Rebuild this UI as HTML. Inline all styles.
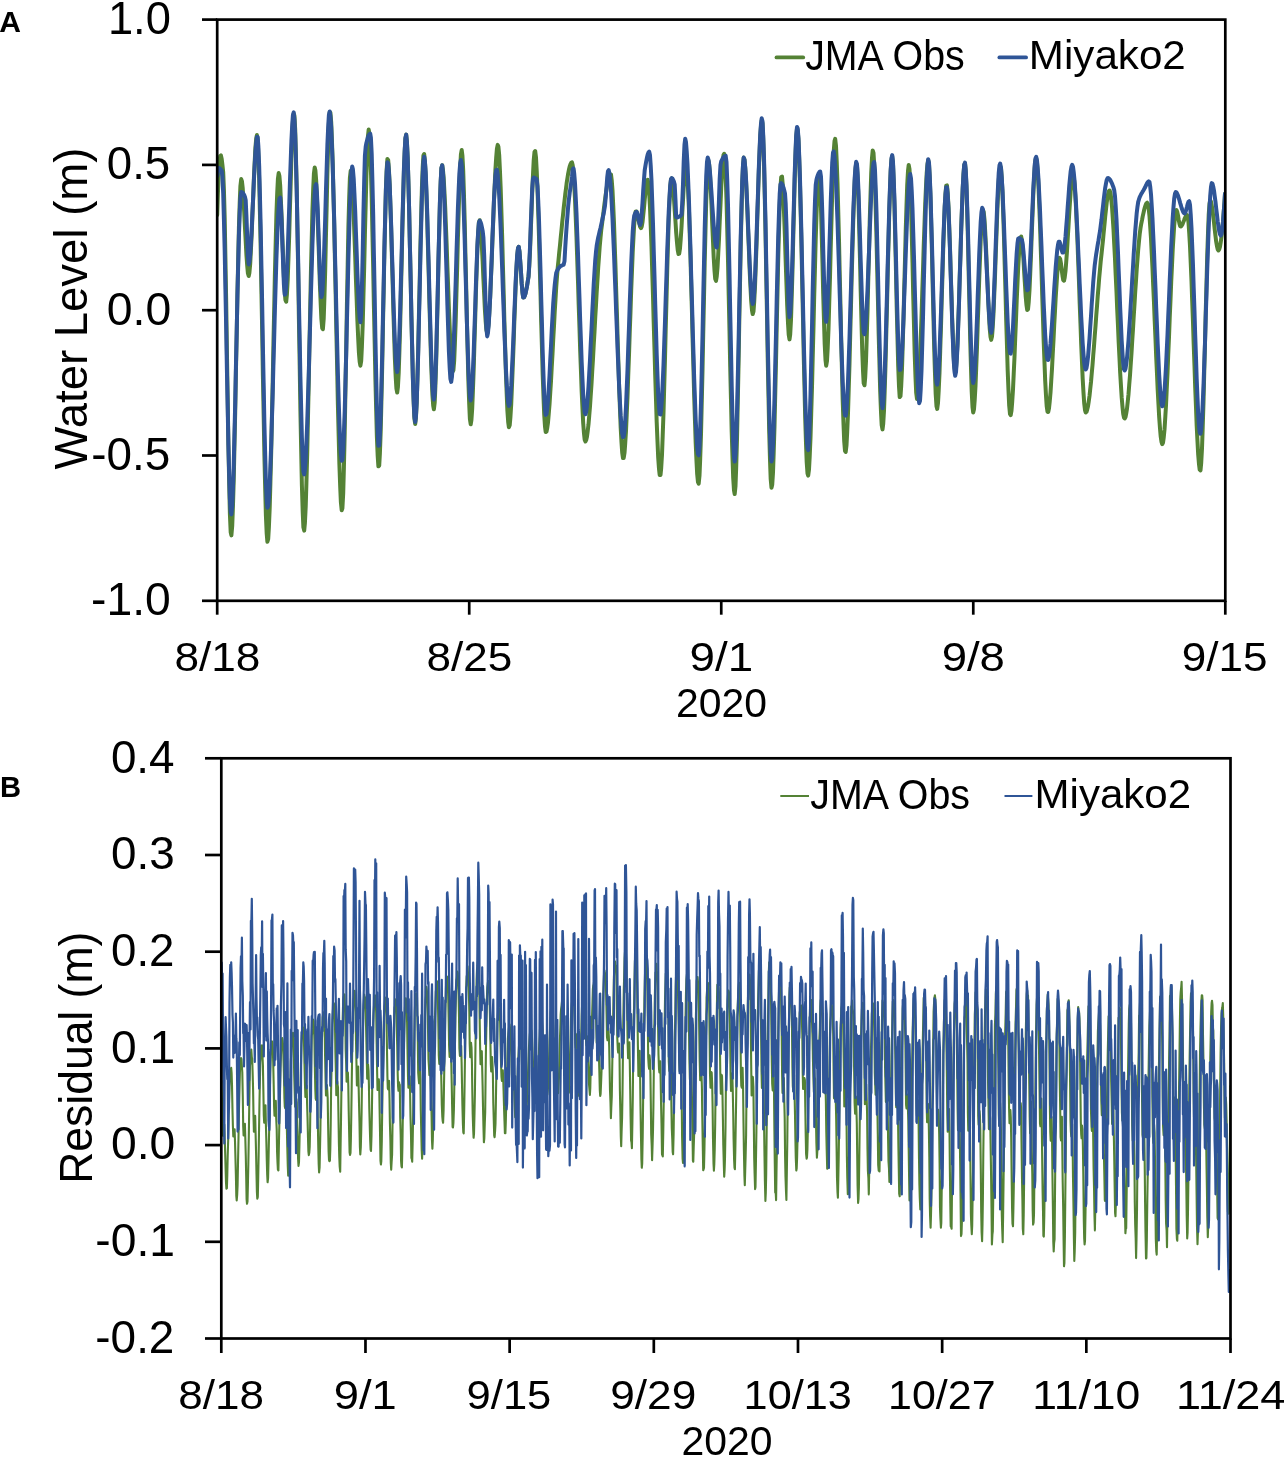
<!DOCTYPE html>
<html><head><meta charset="utf-8"><title>Water level and residual</title>
<style>
html,body{margin:0;padding:0;background:#fff;}
body{width:1286px;height:1459px;overflow:hidden;}
svg{display:block;font-family:"Liberation Sans", sans-serif;will-change:transform;}
</style></head><body>
<svg width="1286" height="1459" viewBox="0 0 1286 1459">
<rect width="1286" height="1459" fill="#fff"/>
<defs><clipPath id="ct"><rect x="217.2" y="0" width="1008.0999999999999" height="600.8"/></clipPath><clipPath id="cb"><rect x="221.3" y="758.3" width="1009.2" height="580.2"/></clipPath></defs>
<g clip-path="url(#ct)">
<path d="M217.2,215.0 L217.9,193.2 L218.7,175.5 L219.4,162.8 L220.2,156.0 L220.9,155.4 L221.7,158.9 L222.4,164.8 L223.2,172.1 L223.9,189.0 L224.7,218.3 L225.4,257.1 L226.2,302.2 L226.9,350.5 L227.7,398.9 L228.4,444.5 L229.2,483.9 L229.9,514.2 L230.7,532.3 L231.4,535.4 L232.2,526.2 L232.9,507.6 L233.7,481.2 L234.4,448.9 L235.2,412.4 L235.9,373.4 L236.7,333.7 L237.4,295.1 L238.2,259.2 L238.9,228.0 L239.7,203.0 L240.4,186.2 L241.2,179.1 L241.9,181.1 L242.7,188.1 L243.4,198.8 L244.2,212.0 L244.9,226.5 L245.7,241.1 L246.4,254.6 L247.2,265.7 L247.9,273.2 L248.7,276.0 L249.4,272.8 L250.2,263.8 L250.9,250.5 L251.7,234.1 L252.4,215.7 L253.2,196.6 L253.9,178.1 L254.7,161.5 L255.4,147.9 L256.2,138.7 L256.9,135.0 L257.7,140.1 L258.4,155.8 L259.2,180.3 L259.9,212.0 L260.7,249.1 L261.4,290.0 L262.2,332.7 L262.9,375.7 L263.7,417.3 L264.4,455.5 L265.2,488.9 L265.9,515.5 L266.7,533.7 L267.4,541.8 L268.2,538.9 L268.9,527.2 L269.7,507.9 L270.4,482.5 L271.2,452.1 L271.9,418.2 L272.7,382.1 L273.4,345.2 L274.2,308.6 L274.9,273.8 L275.7,242.2 L276.4,214.9 L277.2,193.4 L277.9,179.1 L278.7,173.1 L279.4,176.0 L280.2,185.7 L280.9,200.6 L281.7,218.9 L282.4,238.8 L283.2,258.6 L283.9,276.6 L284.7,290.9 L285.4,299.9 L286.2,301.7 L286.9,294.6 L287.7,280.0 L288.4,259.7 L289.2,235.5 L289.9,209.3 L290.7,182.9 L291.4,158.4 L292.2,137.4 L292.9,121.9 L293.7,113.8 L294.4,115.5 L295.2,129.6 L295.9,154.5 L296.7,188.0 L297.4,227.9 L298.2,272.3 L298.9,318.9 L299.7,365.6 L300.4,410.4 L301.2,451.0 L301.9,485.5 L302.7,511.6 L303.4,527.3 L304.2,530.6 L304.9,523.1 L305.7,506.8 L306.4,483.4 L307.2,454.2 L307.9,420.7 L308.7,384.4 L309.4,346.7 L310.2,309.1 L310.9,273.1 L311.7,240.1 L312.4,211.6 L313.2,189.0 L313.9,173.8 L314.7,167.5 L315.4,170.5 L316.2,180.9 L316.9,197.0 L317.7,217.0 L318.4,239.5 L319.2,262.5 L319.9,284.6 L320.7,304.0 L321.4,319.1 L322.2,328.1 L322.9,329.2 L323.7,318.8 L324.4,298.3 L325.2,270.5 L325.9,238.4 L326.7,204.8 L327.4,172.5 L328.2,144.4 L328.9,123.3 L329.7,112.1 L330.4,112.6 L331.2,122.2 L331.9,139.3 L332.7,162.6 L333.4,191.2 L334.2,223.7 L334.9,259.0 L335.7,296.0 L336.4,333.5 L337.2,370.2 L337.9,405.1 L338.7,436.9 L339.4,464.5 L340.2,486.7 L340.9,502.3 L341.7,510.3 L342.4,508.4 L343.2,493.4 L343.9,467.4 L344.7,433.0 L345.4,392.9 L346.2,349.6 L346.9,305.9 L347.7,264.2 L348.4,227.2 L349.2,197.6 L349.9,177.9 L350.7,170.7 L351.4,174.0 L352.2,183.0 L352.9,196.8 L353.7,214.3 L354.4,234.5 L355.2,256.3 L355.9,278.6 L356.7,300.5 L357.4,320.8 L358.2,338.5 L358.9,352.6 L359.7,362.0 L360.4,365.7 L361.2,360.9 L361.9,346.6 L362.7,324.7 L363.4,297.4 L364.2,266.7 L364.9,234.8 L365.7,203.7 L366.4,175.6 L367.2,152.4 L367.9,136.4 L368.7,129.6 L369.4,133.6 L370.2,147.5 L370.9,169.7 L371.7,198.3 L372.4,231.7 L373.2,268.2 L373.9,306.1 L374.7,343.6 L375.4,379.1 L376.2,410.8 L376.9,437.1 L377.7,456.1 L378.4,466.3 L379.2,465.7 L379.9,453.3 L380.7,431.2 L381.4,401.6 L382.2,366.6 L382.9,328.5 L383.7,289.5 L384.4,251.9 L385.2,217.8 L385.9,189.5 L386.7,169.1 L387.4,159.0 L388.2,160.2 L388.9,169.4 L389.7,185.1 L390.4,205.8 L391.2,230.2 L391.9,257.0 L392.7,284.6 L393.4,311.8 L394.2,337.2 L394.9,359.3 L395.7,376.8 L396.4,388.4 L397.2,392.5 L397.9,387.3 L398.7,373.0 L399.4,351.4 L400.2,324.3 L400.9,293.7 L401.7,261.3 L402.4,229.1 L403.2,198.8 L403.9,172.4 L404.7,151.6 L405.4,138.4 L406.2,134.6 L406.9,141.6 L407.7,158.2 L408.4,182.4 L409.2,212.4 L409.9,246.1 L410.7,281.6 L411.4,317.0 L412.2,350.4 L412.9,379.7 L413.7,403.0 L414.4,418.4 L415.2,424.0 L415.9,418.3 L416.7,402.6 L417.4,379.1 L418.2,349.7 L418.9,316.5 L419.7,281.7 L420.4,247.3 L421.2,215.4 L421.9,188.1 L422.7,167.4 L423.4,155.5 L424.2,154.1 L424.9,161.3 L425.7,175.3 L426.4,194.8 L427.2,218.6 L427.9,245.3 L428.7,273.7 L429.4,302.4 L430.2,330.1 L430.9,355.6 L431.7,377.6 L432.4,394.7 L433.2,405.7 L433.9,409.3 L434.7,402.6 L435.4,385.9 L436.2,361.4 L436.9,331.5 L437.7,298.4 L438.4,264.6 L439.2,232.4 L439.9,204.0 L440.7,181.9 L441.4,168.2 L442.2,165.2 L442.9,169.4 L443.7,178.3 L444.4,191.2 L445.2,207.4 L445.9,225.9 L446.7,246.1 L447.4,267.1 L448.2,288.2 L448.9,308.5 L449.7,327.3 L450.4,343.8 L451.2,357.2 L451.9,366.7 L452.7,371.5 L453.4,370.3 L454.2,360.5 L454.9,343.5 L455.7,321.1 L456.4,295.0 L457.2,266.7 L457.9,238.2 L458.7,211.0 L459.4,186.9 L460.2,167.5 L460.9,154.7 L461.7,150.0 L462.4,155.4 L463.2,170.3 L463.9,192.9 L464.7,221.1 L465.4,253.2 L466.2,287.2 L466.9,321.1 L467.7,353.2 L468.4,381.4 L469.2,404.0 L469.9,418.9 L470.7,424.3 L471.4,420.1 L472.2,408.5 L472.9,391.1 L473.7,369.3 L474.4,344.6 L475.2,318.7 L475.9,292.9 L476.7,268.9 L477.4,248.1 L478.2,232.1 L478.9,222.3 L479.7,220.2 L480.4,224.7 L481.2,234.1 L481.9,247.0 L482.7,262.3 L483.4,278.7 L484.2,294.9 L484.9,309.7 L485.7,321.8 L486.4,330.0 L487.2,333.0 L487.9,330.4 L488.7,322.9 L489.4,311.5 L490.2,296.9 L490.9,279.8 L491.7,261.1 L492.4,241.5 L493.2,221.8 L493.9,202.7 L494.7,185.2 L495.4,169.8 L496.2,157.4 L496.9,148.9 L497.7,144.9 L498.4,146.7 L499.2,155.2 L499.9,169.6 L500.7,188.9 L501.4,211.9 L502.2,237.7 L502.9,265.3 L503.7,293.6 L504.4,321.7 L505.2,348.4 L505.9,372.9 L506.7,394.0 L507.4,410.8 L508.2,422.2 L508.9,427.2 L509.7,425.3 L510.4,417.3 L511.2,404.4 L511.9,387.6 L512.7,368.2 L513.5,347.1 L514.2,325.5 L515.0,304.5 L515.7,285.2 L516.5,268.6 L517.2,256.0 L518.0,248.4 L518.7,246.8 L519.5,251.6 L520.2,260.8 L521.0,272.1 L521.7,283.4 L522.5,292.6 L523.2,297.4 L524.0,297.3 L524.7,295.8 L525.5,293.4 L526.2,290.1 L527.0,286.1 L527.7,281.7 L528.5,276.8 L529.2,267.1 L530.0,252.0 L530.7,233.3 L531.5,212.9 L532.2,192.7 L533.0,174.6 L533.7,160.4 L534.5,151.9 L535.2,151.0 L536.0,157.6 L536.7,170.6 L537.5,188.8 L538.2,211.3 L539.0,236.9 L539.7,264.6 L540.5,293.3 L541.2,321.9 L542.0,349.4 L542.7,374.7 L543.5,396.7 L544.2,414.3 L545.0,426.5 L545.7,432.1 L546.5,431.6 L547.2,428.2 L548.0,422.4 L548.7,414.4 L549.5,404.7 L550.2,393.5 L551.0,381.0 L551.7,367.8 L552.5,353.9 L553.2,339.8 L554.0,325.8 L554.7,312.2 L555.5,299.3 L556.2,287.4 L557.0,276.7 L557.7,267.8 L558.5,260.3 L559.2,252.8 L560.0,245.3 L560.7,237.6 L561.5,230.0 L562.2,222.5 L563.0,215.1 L563.7,208.0 L564.5,201.1 L565.2,194.6 L566.0,188.5 L566.7,182.8 L567.5,177.8 L568.2,173.3 L569.0,169.5 L569.7,166.4 L570.5,164.2 L571.2,162.8 L572.0,162.4 L572.7,165.3 L573.5,172.7 L574.2,184.2 L575.0,199.2 L575.7,217.0 L576.5,237.1 L577.2,258.8 L578.0,281.7 L578.7,305.1 L579.5,328.4 L580.2,351.0 L581.0,372.4 L581.7,391.9 L582.5,409.0 L583.2,423.1 L584.0,433.6 L584.7,439.9 L585.5,441.5 L586.2,440.0 L587.0,436.5 L587.7,431.2 L588.5,424.3 L589.2,416.0 L590.0,406.3 L590.7,395.6 L591.5,384.0 L592.2,371.6 L593.0,358.7 L593.7,345.4 L594.5,331.9 L595.2,318.3 L596.0,305.0 L596.7,291.9 L597.5,279.4 L598.2,267.5 L599.0,256.5 L599.7,246.6 L600.5,237.8 L601.2,230.5 L602.0,224.4 L602.7,218.3 L603.5,212.1 L604.2,206.0 L605.0,200.1 L605.7,194.5 L606.5,189.3 L607.2,184.7 L608.0,180.7 L608.7,177.6 L609.5,175.4 L610.2,174.2 L611.0,174.6 L611.7,180.0 L612.5,190.4 L613.2,204.9 L614.0,223.0 L614.7,243.9 L615.5,266.8 L616.2,291.2 L617.0,316.4 L617.7,341.5 L618.5,365.9 L619.2,388.8 L620.0,409.7 L620.7,427.8 L621.5,442.3 L622.2,452.7 L623.0,458.1 L623.7,458.0 L624.5,453.0 L625.2,443.7 L626.0,430.8 L626.7,414.9 L627.5,396.6 L628.2,376.5 L629.0,355.2 L629.7,333.4 L630.5,311.6 L631.2,290.4 L632.0,270.5 L632.7,252.5 L633.5,236.9 L634.2,224.5 L635.0,215.8 L635.7,211.4 L636.5,211.4 L637.2,213.5 L638.0,216.8 L638.7,220.6 L639.5,224.3 L640.2,227.0 L641.0,228.2 L641.7,226.7 L642.5,222.2 L643.2,215.6 L644.0,207.8 L644.7,199.6 L645.5,191.8 L646.2,185.3 L647.0,181.0 L647.7,179.8 L648.5,183.6 L649.2,193.0 L650.0,207.2 L650.7,225.3 L651.5,246.7 L652.2,270.5 L653.0,296.0 L653.7,322.5 L654.5,349.1 L655.2,375.0 L656.0,399.6 L656.7,422.1 L657.5,441.6 L658.2,457.5 L659.0,468.8 L659.7,475.0 L660.5,475.1 L661.2,468.0 L662.0,454.6 L662.7,435.8 L663.5,412.9 L664.2,386.7 L665.0,358.4 L665.7,328.9 L666.5,299.4 L667.2,270.9 L668.0,244.3 L668.7,220.9 L669.5,201.6 L670.2,187.4 L671.0,179.4 L671.7,178.4 L672.5,182.2 L673.2,189.4 L674.0,199.0 L674.7,210.1 L675.5,221.7 L676.2,232.8 L677.0,242.5 L677.7,249.9 L678.5,254.0 L679.2,253.7 L680.0,248.4 L680.7,239.3 L681.5,227.4 L682.2,213.9 L683.0,200.2 L683.7,187.3 L684.5,176.5 L685.2,169.0 L686.0,166.0 L686.7,168.9 L687.5,177.8 L688.2,192.1 L689.0,210.8 L689.7,233.1 L690.5,258.2 L691.2,285.3 L692.0,313.6 L692.7,342.1 L693.5,370.2 L694.2,397.0 L695.0,421.6 L695.7,443.3 L696.5,461.1 L697.2,474.4 L698.0,482.2 L698.7,483.6 L699.5,475.6 L700.2,458.7 L701.0,434.4 L701.7,404.5 L702.5,370.7 L703.2,334.6 L704.0,298.0 L704.7,262.5 L705.5,229.8 L706.2,201.6 L707.0,179.6 L707.7,165.4 L708.5,160.8 L709.2,164.7 L710.0,174.4 L710.7,188.4 L711.5,205.2 L712.2,223.3 L713.0,241.2 L713.7,257.5 L714.5,270.5 L715.2,278.8 L716.0,280.9 L716.7,276.7 L717.5,267.6 L718.2,254.6 L719.0,239.0 L719.7,221.9 L720.5,204.4 L721.2,187.9 L722.0,173.3 L722.7,162.0 L723.5,155.0 L724.2,153.8 L725.0,161.1 L725.7,176.9 L726.5,199.6 L727.2,227.8 L728.0,260.1 L728.7,294.9 L729.5,331.0 L730.2,366.7 L731.0,400.7 L731.7,431.6 L732.5,457.7 L733.2,477.8 L734.0,490.4 L734.7,494.0 L735.5,486.0 L736.2,467.1 L737.0,439.4 L737.7,405.2 L738.5,366.6 L739.2,325.8 L740.0,285.0 L740.7,246.4 L741.5,212.2 L742.2,184.5 L743.0,165.6 L743.7,157.6 L744.5,159.8 L745.2,167.7 L746.0,180.1 L746.7,195.8 L747.5,213.9 L748.2,233.2 L749.0,252.7 L749.7,271.2 L750.5,287.7 L751.2,301.1 L752.0,310.3 L752.7,314.1 L753.5,311.4 L754.2,301.8 L755.0,286.8 L755.7,267.6 L756.5,245.5 L757.2,221.9 L758.0,198.0 L758.7,175.2 L759.5,154.7 L760.2,137.8 L761.0,125.9 L761.7,120.3 L762.5,123.4 L763.2,138.1 L764.0,162.4 L764.7,194.3 L765.5,231.8 L766.2,272.8 L767.0,315.4 L767.7,357.4 L768.5,396.8 L769.2,431.6 L770.0,459.7 L770.7,479.1 L771.5,487.7 L772.2,484.8 L773.0,472.5 L773.7,452.5 L774.5,426.3 L775.2,395.7 L776.0,362.1 L776.7,327.1 L777.5,292.4 L778.2,259.4 L779.0,229.8 L779.7,205.1 L780.5,187.0 L781.2,177.1 L782.0,176.5 L782.7,184.2 L783.5,198.3 L784.2,217.1 L785.0,239.0 L785.7,262.2 L786.5,285.0 L787.2,305.8 L788.0,323.0 L788.7,334.7 L789.5,339.4 L790.2,334.5 L791.0,319.7 L791.7,297.5 L792.5,270.1 L793.2,239.9 L794.0,209.2 L794.7,180.4 L795.5,155.8 L796.2,137.8 L797.0,128.7 L797.7,130.2 L798.5,140.9 L799.2,159.4 L800.0,184.2 L800.7,213.9 L801.5,247.2 L802.2,282.7 L803.0,318.8 L803.7,354.4 L804.5,387.8 L805.2,417.9 L806.0,443.1 L806.7,462.0 L807.5,473.3 L808.2,475.6 L809.0,469.5 L809.7,456.5 L810.5,437.6 L811.2,414.1 L812.0,387.1 L812.7,357.7 L813.5,327.0 L814.2,296.3 L815.0,266.6 L815.7,239.2 L816.5,215.1 L817.2,195.6 L818.0,181.7 L818.7,174.7 L819.5,176.2 L820.2,188.2 L821.0,208.6 L821.7,234.7 L822.5,263.9 L823.2,293.6 L824.0,321.2 L824.7,344.2 L825.5,359.9 L826.2,365.7 L827.0,361.0 L827.7,348.2 L828.5,328.8 L829.2,304.5 L830.0,277.1 L830.7,248.3 L831.5,219.7 L832.2,192.9 L833.0,169.8 L833.7,152.0 L834.5,141.2 L835.2,138.9 L836.0,146.0 L836.7,161.0 L837.5,182.7 L838.2,209.5 L839.0,240.1 L839.7,273.0 L840.5,306.9 L841.2,340.3 L842.0,371.9 L842.7,400.1 L843.5,423.6 L844.2,441.0 L845.0,450.9 L845.7,452.0 L846.5,445.2 L847.2,431.9 L848.0,413.1 L848.7,390.0 L849.5,363.7 L850.2,335.3 L851.0,305.8 L851.7,276.4 L852.5,248.2 L853.2,222.3 L854.0,199.7 L854.7,181.6 L855.5,169.1 L856.2,163.3 L857.0,166.2 L857.7,179.5 L858.5,201.1 L859.2,228.5 L860.0,259.5 L860.7,291.5 L861.5,322.3 L862.2,349.5 L863.0,370.6 L863.7,383.3 L864.5,385.3 L865.2,377.3 L866.0,361.1 L866.7,338.7 L867.5,311.8 L868.2,282.2 L869.0,251.8 L869.7,222.3 L870.5,195.7 L871.2,173.6 L872.0,157.9 L872.7,150.5 L873.5,152.8 L874.2,164.4 L875.0,183.5 L875.7,208.6 L876.5,238.0 L877.2,270.0 L878.0,303.0 L878.7,335.3 L879.5,365.3 L880.2,391.4 L881.0,411.9 L881.7,425.1 L882.5,429.4 L883.2,424.1 L884.0,410.7 L884.7,390.6 L885.5,365.3 L886.2,336.4 L887.0,305.4 L887.7,273.7 L888.5,243.0 L889.2,214.7 L890.0,190.3 L890.7,171.4 L891.5,159.5 L892.2,156.1 L893.0,163.8 L893.7,181.8 L894.5,207.5 L895.2,238.5 L896.0,272.4 L896.7,306.6 L897.5,338.6 L898.2,366.0 L899.0,386.3 L899.7,397.0 L900.5,396.2 L901.2,386.2 L902.0,368.7 L902.7,345.6 L903.5,318.6 L904.2,289.4 L905.0,259.7 L905.7,231.3 L906.5,205.9 L907.2,185.2 L908.0,171.0 L908.7,165.0 L909.5,169.1 L910.2,183.0 L911.0,204.7 L911.7,232.0 L912.5,262.8 L913.2,294.8 L914.0,325.9 L914.7,354.1 L915.5,377.1 L916.2,392.8 L917.0,399.0 L917.7,396.4 L918.5,388.2 L919.2,375.4 L920.0,358.6 L920.7,338.9 L921.5,317.0 L922.2,293.7 L923.0,270.0 L923.7,246.6 L924.5,224.3 L925.2,204.1 L926.0,186.7 L926.7,173.0 L927.5,163.9 L928.2,160.1 L929.0,164.0 L929.7,177.3 L930.5,198.1 L931.2,224.6 L932.0,254.8 L932.7,286.7 L933.5,318.6 L934.2,348.4 L935.0,374.2 L935.7,394.2 L936.5,406.3 L937.2,408.9 L938.0,403.0 L938.7,390.6 L939.5,372.8 L940.2,350.9 L941.0,326.4 L941.7,300.4 L942.5,274.2 L943.2,249.1 L944.0,226.4 L944.7,207.4 L945.5,193.4 L946.2,185.6 L947.0,185.4 L947.7,192.9 L948.5,206.8 L949.2,225.6 L950.0,247.7 L950.7,271.7 L951.5,296.1 L952.2,319.5 L953.0,340.2 L953.7,356.9 L954.5,368.0 L955.2,372.0 L956.0,368.4 L956.7,358.3 L957.5,342.9 L958.2,323.5 L959.0,301.2 L959.7,277.3 L960.5,252.8 L961.2,229.1 L962.0,207.3 L962.7,188.6 L963.5,174.2 L964.2,165.3 L965.0,163.2 L965.7,171.0 L966.5,188.1 L967.2,212.5 L968.0,241.9 L968.7,274.4 L969.5,307.7 L970.2,339.8 L971.0,368.4 L971.7,391.5 L972.5,406.9 L973.2,412.5 L974.0,409.2 L974.7,400.0 L975.5,385.9 L976.2,368.0 L977.0,347.3 L977.7,325.0 L978.5,302.1 L979.2,279.5 L980.0,258.5 L980.7,239.9 L981.5,225.0 L982.2,214.7 L983.0,210.1 L983.7,212.0 L984.5,219.6 L985.2,231.7 L986.0,246.9 L986.7,264.2 L987.5,282.2 L988.2,299.6 L989.0,315.4 L989.7,328.2 L990.5,336.8 L991.2,339.9 L992.0,336.6 L992.7,327.5 L993.5,313.7 L994.2,296.4 L995.0,276.7 L995.7,255.6 L996.5,234.5 L997.2,214.3 L998.0,196.2 L998.7,181.3 L999.5,170.9 L1000.2,165.9 L1001.0,167.9 L1001.7,177.3 L1002.5,192.9 L1003.2,213.5 L1004.0,237.8 L1004.7,264.5 L1005.5,292.5 L1006.2,320.3 L1007.0,346.8 L1007.7,370.7 L1008.5,390.7 L1009.2,405.6 L1010.0,414.0 L1010.7,415.1 L1011.5,410.6 L1012.2,401.8 L1013.0,389.4 L1013.7,374.2 L1014.5,357.0 L1015.2,338.6 L1016.0,319.6 L1016.7,300.9 L1017.5,283.2 L1018.2,267.3 L1019.0,253.9 L1019.7,243.8 L1020.5,237.8 L1021.2,236.6 L1022.0,240.7 L1022.7,249.0 L1023.5,260.0 L1024.2,272.6 L1025.0,285.2 L1025.7,296.6 L1026.5,305.3 L1027.2,310.0 L1028.0,309.3 L1028.7,302.2 L1029.5,290.1 L1030.2,274.1 L1031.0,255.5 L1031.7,235.6 L1032.5,215.6 L1033.2,196.7 L1034.0,180.3 L1034.7,167.6 L1035.5,159.8 L1036.2,158.2 L1037.0,162.7 L1037.7,172.3 L1038.5,186.4 L1039.2,204.0 L1040.0,224.5 L1040.7,247.0 L1041.5,270.7 L1042.2,294.9 L1043.0,318.9 L1043.7,341.7 L1044.5,362.6 L1045.2,380.9 L1046.0,395.7 L1046.7,406.3 L1047.5,411.8 L1048.2,412.0 L1049.0,408.4 L1049.7,401.8 L1050.5,392.6 L1051.2,381.4 L1052.0,368.6 L1052.7,354.6 L1053.5,340.1 L1054.2,325.3 L1055.0,310.9 L1055.7,297.3 L1056.5,285.0 L1057.2,274.4 L1058.0,266.0 L1058.7,260.4 L1059.5,257.9 L1060.2,259.1 L1061.0,263.7 L1061.7,269.8 L1062.5,275.8 L1063.2,280.0 L1064.0,280.7 L1064.7,277.5 L1065.5,271.1 L1066.2,262.1 L1067.0,251.1 L1067.7,239.0 L1068.5,226.2 L1069.2,213.6 L1070.0,201.7 L1070.7,191.2 L1071.5,182.8 L1072.2,177.2 L1073.0,175.0 L1073.7,177.1 L1074.5,183.6 L1075.2,193.9 L1076.0,207.5 L1076.7,223.7 L1077.5,242.0 L1078.2,261.8 L1079.0,282.5 L1079.7,303.6 L1080.5,324.3 L1081.2,344.2 L1082.0,362.6 L1082.7,379.0 L1083.5,392.8 L1084.2,403.3 L1085.0,410.1 L1085.7,412.5 L1086.5,411.8 L1087.2,409.6 L1088.0,406.2 L1088.7,401.6 L1089.5,396.0 L1090.2,389.4 L1091.0,382.0 L1091.7,373.8 L1092.5,365.1 L1093.2,355.8 L1094.0,346.2 L1094.7,336.4 L1095.5,326.3 L1096.2,316.3 L1097.0,306.3 L1097.7,296.5 L1098.5,287.0 L1099.2,277.9 L1100.0,269.4 L1100.7,261.5 L1101.5,254.3 L1102.2,247.5 L1103.0,240.0 L1103.7,232.2 L1104.5,224.3 L1105.2,216.5 L1106.0,209.3 L1106.7,202.8 L1107.5,197.4 L1108.2,193.4 L1109.0,191.0 L1109.7,190.5 L1110.5,193.0 L1111.2,198.5 L1112.0,206.7 L1112.7,217.1 L1113.5,229.5 L1114.2,243.6 L1115.0,258.9 L1115.7,275.1 L1116.5,292.0 L1117.2,309.1 L1118.0,326.1 L1118.7,342.6 L1119.5,358.4 L1120.2,373.1 L1121.0,386.3 L1121.7,397.7 L1122.5,407.0 L1123.2,413.8 L1124.0,417.7 L1124.7,418.5 L1125.5,417.0 L1126.2,413.6 L1127.0,408.6 L1127.7,402.1 L1128.5,394.2 L1129.2,385.2 L1130.0,375.3 L1130.7,364.5 L1131.5,353.0 L1132.2,341.1 L1133.0,328.9 L1133.7,316.6 L1134.5,304.3 L1135.2,292.2 L1136.0,280.6 L1136.7,269.4 L1137.5,259.0 L1138.2,249.6 L1139.0,241.1 L1139.7,234.0 L1140.5,228.2 L1141.2,224.0 L1142.0,220.2 L1142.7,216.4 L1143.5,212.9 L1144.2,209.7 L1145.0,206.9 L1145.7,204.8 L1146.5,203.3 L1147.2,202.7 L1148.0,204.0 L1148.7,208.6 L1149.5,216.2 L1150.2,226.3 L1151.0,238.6 L1151.7,252.8 L1152.5,268.6 L1153.2,285.4 L1154.0,303.0 L1154.7,321.0 L1155.5,339.1 L1156.2,356.9 L1157.0,374.0 L1157.7,390.0 L1158.5,404.6 L1159.2,417.5 L1160.0,428.3 L1160.7,436.5 L1161.5,442.0 L1162.2,444.2 L1163.0,442.8 L1163.7,437.7 L1164.5,429.5 L1165.2,418.6 L1166.0,405.3 L1166.7,390.0 L1167.5,373.3 L1168.2,355.5 L1169.0,337.1 L1169.7,318.4 L1170.5,300.0 L1171.2,282.1 L1172.0,265.3 L1172.7,250.0 L1173.5,236.6 L1174.2,225.4 L1175.0,217.0 L1175.7,211.8 L1176.5,210.1 L1177.2,211.7 L1178.0,215.4 L1178.7,219.9 L1179.5,223.9 L1180.2,226.3 L1181.0,226.4 L1181.7,225.6 L1182.5,224.2 L1183.2,222.4 L1184.0,220.4 L1184.7,218.5 L1185.5,216.8 L1186.2,215.6 L1187.0,215.0 L1187.7,216.6 L1188.5,222.6 L1189.2,232.6 L1190.0,246.1 L1190.7,262.3 L1191.5,280.9 L1192.2,301.1 L1193.0,322.5 L1193.7,344.4 L1194.5,366.2 L1195.2,387.5 L1196.0,407.5 L1196.7,425.8 L1197.5,441.7 L1198.2,454.7 L1199.0,464.3 L1199.7,469.7 L1200.5,470.3 L1201.2,463.1 L1202.0,448.4 L1202.7,427.8 L1203.5,402.5 L1204.2,374.0 L1205.0,343.7 L1205.7,313.1 L1206.5,283.5 L1207.2,256.3 L1208.0,233.0 L1208.7,215.0 L1209.5,203.6 L1210.2,200.3 L1211.0,201.8 L1211.7,205.2 L1212.5,210.1 L1213.2,216.0 L1214.0,222.6 L1214.7,229.4 L1215.5,235.9 L1216.2,241.7 L1217.0,246.3 L1217.7,249.4 L1218.5,250.4 L1219.2,249.4 L1220.0,246.7 L1220.7,242.4 L1221.5,236.7 L1222.2,229.6 L1223.0,221.4 L1223.7,212.1 L1224.5,201.8 L1225.0,193.7" fill="none" stroke="#548235" stroke-width="4.0" stroke-linejoin="round" stroke-linecap="round"/>
<path d="M217.2,176.0 L217.9,170.9 L218.7,168.0 L219.4,168.2 L220.2,168.8 L220.9,169.7 L221.7,170.8 L222.4,176.6 L223.2,193.3 L223.9,218.9 L224.7,251.3 L225.4,288.6 L226.2,328.6 L226.9,369.4 L227.7,408.8 L228.4,444.9 L229.2,475.5 L229.9,498.6 L230.7,512.2 L231.4,514.4 L232.2,506.1 L232.9,489.3 L233.7,465.4 L234.4,436.2 L235.2,403.1 L235.9,367.9 L236.7,332.0 L237.4,297.0 L238.2,264.6 L238.9,236.3 L239.7,213.7 L240.4,198.5 L241.2,192.1 L241.9,192.2 L242.7,192.7 L243.4,193.7 L244.2,195.1 L244.9,196.8 L245.7,200.2 L246.4,215.3 L247.2,236.8 L247.9,256.0 L248.7,264.4 L249.4,261.7 L250.2,254.3 L250.9,243.1 L251.7,229.1 L252.4,213.4 L253.2,196.9 L253.9,180.6 L254.7,165.4 L255.4,152.5 L256.2,142.7 L256.9,137.0 L257.7,136.9 L258.4,147.0 L259.2,166.7 L259.9,194.1 L260.7,227.6 L261.4,265.4 L262.2,305.6 L262.9,346.6 L263.7,386.4 L264.4,423.5 L265.2,455.9 L265.9,481.9 L266.7,499.8 L267.4,507.8 L268.2,505.9 L268.9,497.7 L269.7,484.3 L270.4,466.3 L271.2,444.6 L271.9,420.0 L272.7,393.4 L273.4,365.7 L274.2,337.5 L274.9,309.7 L275.7,283.3 L276.4,258.9 L277.2,237.4 L277.9,219.7 L278.7,206.5 L279.4,198.8 L280.2,197.5 L280.9,206.3 L281.7,223.5 L282.4,244.9 L283.2,266.5 L283.9,284.5 L284.7,294.7 L285.4,294.2 L286.2,286.0 L286.9,271.7 L287.7,252.8 L288.4,230.8 L289.2,207.2 L289.9,183.4 L290.7,160.8 L291.4,141.0 L292.2,125.3 L292.9,115.3 L293.7,112.4 L294.4,119.2 L295.2,135.4 L295.9,159.4 L296.7,189.7 L297.4,224.5 L298.2,262.2 L298.9,301.3 L299.7,340.0 L300.4,376.8 L301.2,410.0 L301.9,437.9 L302.7,459.0 L303.4,471.7 L304.2,474.4 L304.9,469.4 L305.7,458.7 L306.4,443.2 L307.2,423.6 L307.9,400.8 L308.7,375.7 L309.4,349.1 L310.2,321.9 L310.9,295.0 L311.7,269.1 L312.4,245.1 L313.2,223.9 L313.9,206.4 L314.7,193.3 L315.4,185.6 L316.2,184.2 L316.9,192.5 L317.7,208.8 L318.4,230.0 L319.2,252.6 L319.9,273.5 L320.7,289.4 L321.4,297.1 L322.2,294.3 L322.9,283.2 L323.7,265.6 L324.4,243.3 L325.2,218.2 L325.9,192.2 L326.7,167.0 L327.4,144.5 L328.2,126.5 L328.9,114.9 L329.7,111.5 L330.4,116.1 L331.2,127.4 L331.9,144.3 L332.7,166.1 L333.4,191.7 L334.2,220.2 L334.9,250.6 L335.7,282.2 L336.4,313.8 L337.2,344.7 L337.9,373.8 L338.7,400.2 L339.4,423.1 L340.2,441.4 L340.9,454.3 L341.7,460.8 L342.4,459.8 L343.2,450.3 L343.9,433.7 L344.7,411.2 L345.4,384.3 L346.2,354.3 L346.9,322.5 L347.7,290.4 L348.4,259.3 L349.2,230.6 L349.9,205.5 L350.7,185.6 L351.4,172.2 L352.2,166.6 L352.9,169.3 L353.7,178.6 L354.4,193.0 L355.2,211.1 L355.9,231.6 L356.7,252.9 L357.4,273.6 L358.2,292.3 L358.9,307.6 L359.7,318.0 L360.4,322.2 L361.2,313.3 L361.9,288.2 L362.7,253.4 L363.4,215.3 L364.2,180.6 L364.9,155.8 L365.7,146.6 L366.4,143.0 L367.2,139.9 L367.9,137.4 L368.7,135.5 L369.4,134.3 L370.2,133.7 L370.9,137.6 L371.7,153.9 L372.4,180.6 L373.2,215.0 L373.9,254.4 L374.7,296.1 L375.4,337.5 L376.2,375.8 L376.9,408.4 L377.7,432.6 L378.4,445.7 L379.2,445.6 L379.9,434.2 L380.7,413.8 L381.4,386.4 L382.2,354.1 L382.9,318.9 L383.7,282.9 L384.4,248.1 L385.2,216.6 L385.9,190.4 L386.7,171.6 L387.4,162.3 L388.2,163.3 L388.9,171.6 L389.7,185.6 L390.4,204.3 L391.2,226.2 L391.9,250.3 L392.7,275.1 L393.4,299.5 L394.2,322.3 L394.9,342.2 L395.7,357.9 L396.4,368.3 L397.2,372.0 L397.9,367.2 L398.7,354.0 L399.4,334.1 L400.2,309.2 L400.9,281.0 L401.7,251.2 L402.4,221.6 L403.2,193.7 L403.9,169.4 L404.7,150.3 L405.4,138.1 L406.2,134.6 L406.9,141.6 L407.7,158.0 L408.4,182.1 L409.2,211.9 L409.9,245.3 L410.7,280.6 L411.4,315.8 L412.2,348.9 L412.9,378.0 L413.7,401.1 L414.4,416.5 L415.2,422.0 L415.9,416.8 L416.7,402.3 L417.4,380.5 L418.2,353.2 L418.9,322.2 L419.7,289.4 L420.4,256.5 L421.2,225.5 L421.9,198.2 L422.7,176.4 L423.4,161.9 L424.2,156.7 L424.9,160.8 L425.7,172.3 L426.4,189.8 L427.2,212.0 L427.9,237.5 L428.7,265.0 L429.4,293.1 L430.2,320.5 L430.9,345.8 L431.7,367.7 L432.4,384.8 L433.2,395.9 L433.9,399.5 L434.7,393.1 L435.4,377.0 L436.2,353.5 L436.9,324.8 L437.7,293.1 L438.4,260.6 L439.2,229.7 L439.9,202.5 L440.7,181.2 L441.4,168.1 L442.2,165.3 L442.9,171.6 L443.7,184.9 L444.4,203.7 L445.2,226.6 L445.9,252.2 L446.7,278.9 L447.4,305.3 L448.2,329.9 L448.9,351.4 L449.7,368.2 L450.4,378.8 L451.2,381.9 L451.9,377.3 L452.7,366.2 L453.4,349.8 L454.2,329.4 L454.9,306.1 L455.7,281.2 L456.4,255.8 L457.2,231.0 L457.9,208.2 L458.7,188.5 L459.4,173.1 L460.2,163.2 L460.9,160.0 L461.7,164.5 L462.4,176.1 L463.2,193.5 L463.9,215.4 L464.7,240.4 L465.4,267.4 L466.2,294.9 L466.9,321.8 L467.7,346.7 L468.4,368.3 L469.2,385.3 L469.9,396.5 L470.7,400.5 L471.4,396.8 L472.2,386.6 L472.9,371.2 L473.7,352.1 L474.4,330.4 L475.2,307.5 L475.9,284.9 L476.7,263.7 L477.4,245.4 L478.2,231.3 L478.9,222.7 L479.7,220.7 L480.4,221.8 L481.2,224.0 L481.9,227.2 L482.7,231.1 L483.4,237.4 L484.2,255.4 L484.9,280.9 L485.7,307.3 L486.4,328.0 L487.2,336.4 L487.9,333.4 L488.7,325.0 L489.4,312.3 L490.2,296.2 L490.9,277.8 L491.7,258.2 L492.4,238.3 L493.2,219.1 L493.9,201.7 L494.7,187.0 L495.4,176.2 L496.2,170.2 L496.9,169.8 L497.7,174.5 L498.4,183.3 L499.2,195.8 L499.9,211.2 L500.7,229.0 L501.4,248.5 L502.2,269.3 L502.9,290.5 L503.7,311.6 L504.4,332.1 L505.2,351.3 L505.9,368.5 L506.7,383.2 L507.4,394.7 L508.2,402.5 L508.9,405.9 L509.7,404.1 L510.4,397.1 L511.2,385.7 L511.9,370.9 L512.7,353.8 L513.5,335.2 L514.2,316.2 L515.0,297.6 L515.7,280.6 L516.5,266.0 L517.2,254.9 L518.0,248.2 L518.7,246.8 L519.5,251.6 L520.2,260.8 L521.0,272.1 L521.7,283.4 L522.5,292.6 L523.2,297.4 L524.0,297.3 L524.7,295.9 L525.5,293.5 L526.2,290.2 L527.0,286.3 L527.7,281.8 L528.5,276.7 L529.2,265.3 L530.0,247.4 L530.7,226.4 L531.5,205.8 L532.2,188.8 L533.0,178.9 L533.7,177.6 L534.5,177.8 L535.2,178.2 L536.0,178.6 L536.7,179.5 L537.5,186.3 L538.2,200.2 L539.0,219.8 L539.7,243.5 L540.5,270.1 L541.2,298.0 L542.0,325.8 L542.7,352.3 L543.5,375.8 L544.2,395.0 L545.0,408.5 L545.7,414.9 L546.5,414.0 L547.2,408.9 L548.0,400.3 L548.7,389.1 L549.5,375.8 L550.2,361.2 L551.0,346.0 L551.7,330.9 L552.5,316.6 L553.2,303.8 L554.0,293.2 L554.7,285.2 L555.5,278.0 L556.2,273.1 L557.0,271.1 L557.7,269.6 L558.5,268.3 L559.2,267.4 L560.0,266.7 L560.7,266.0 L561.5,265.6 L562.2,265.3 L563.0,265.0 L563.7,264.5 L564.5,261.1 L565.2,248.5 L566.0,235.7 L566.7,225.3 L567.5,215.2 L568.2,206.0 L569.0,198.6 L569.7,192.8 L570.5,187.8 L571.2,182.9 L572.0,176.7 L572.7,169.3 L573.5,168.4 L574.2,173.4 L575.0,183.1 L575.7,196.6 L576.5,213.3 L577.2,232.6 L578.0,253.7 L578.7,275.9 L579.5,298.6 L580.2,321.0 L581.0,342.6 L581.7,362.5 L582.5,380.1 L583.2,394.8 L584.0,405.8 L584.7,412.5 L585.5,414.1 L586.2,411.6 L587.0,405.9 L587.7,397.4 L588.5,386.6 L589.2,373.9 L590.0,359.8 L590.7,344.8 L591.5,329.3 L592.2,313.8 L593.0,298.7 L593.7,284.5 L594.5,271.6 L595.2,260.6 L596.0,251.8 L596.7,245.6 L597.5,241.2 L598.2,237.4 L599.0,234.1 L599.7,231.0 L600.5,228.0 L601.2,224.7 L602.0,221.2 L602.7,217.8 L603.5,214.4 L604.2,210.5 L605.0,205.7 L605.7,197.6 L606.5,187.4 L607.2,177.6 L608.0,171.1 L608.7,170.1 L609.5,173.6 L610.2,180.6 L611.0,190.6 L611.7,203.4 L612.5,218.4 L613.2,235.2 L614.0,253.6 L614.7,272.9 L615.5,292.9 L616.2,313.1 L617.0,333.1 L617.7,352.5 L618.5,370.9 L619.2,387.8 L620.0,403.0 L620.7,415.9 L621.5,426.1 L622.2,433.3 L623.0,437.1 L623.7,436.7 L624.5,431.1 L625.2,420.8 L626.0,406.7 L626.7,389.4 L627.5,369.8 L628.2,348.6 L629.0,326.6 L629.7,304.6 L630.5,283.4 L631.2,263.7 L632.0,246.3 L632.7,231.9 L633.5,221.5 L634.2,215.7 L635.0,213.7 L635.7,212.4 L636.5,211.8 L637.2,213.0 L638.0,216.3 L638.7,220.3 L639.5,223.6 L640.2,225.0 L641.0,221.9 L641.7,213.9 L642.5,202.9 L643.2,190.7 L644.0,179.3 L644.7,170.4 L645.5,165.4 L646.2,161.3 L647.0,157.5 L647.7,154.5 L648.5,152.4 L649.2,151.7 L650.0,155.3 L650.7,165.3 L651.5,180.7 L652.2,200.6 L653.0,223.8 L653.7,249.4 L654.5,276.2 L655.2,303.3 L656.0,329.7 L656.7,354.3 L657.5,376.0 L658.2,394.0 L659.0,407.0 L659.7,414.2 L660.5,414.5 L661.2,408.9 L662.0,398.2 L662.7,383.3 L663.5,365.0 L664.2,344.2 L665.0,321.6 L665.7,298.2 L666.5,274.7 L667.2,251.9 L668.0,230.8 L668.7,212.2 L669.5,196.8 L670.2,185.5 L671.0,179.1 L671.7,178.1 L672.5,178.7 L673.2,180.0 L674.0,181.9 L674.7,184.6 L675.5,200.4 L676.2,217.2 L677.0,217.5 L677.7,217.3 L678.5,217.0 L679.2,216.7 L680.0,216.2 L680.7,215.6 L681.5,214.5 L682.2,203.6 L683.0,183.8 L683.7,161.7 L684.5,144.4 L685.2,138.7 L686.0,142.3 L686.7,151.1 L687.5,164.4 L688.2,181.7 L689.0,202.1 L689.7,225.0 L690.5,249.9 L691.2,275.9 L692.0,302.5 L692.7,328.9 L693.5,354.5 L694.2,378.7 L695.0,400.7 L695.7,420.0 L696.5,435.7 L697.2,447.3 L698.0,454.1 L698.7,455.3 L699.5,446.6 L700.2,428.4 L701.0,402.5 L701.7,371.0 L702.5,335.9 L703.2,299.2 L704.0,262.9 L704.7,229.1 L705.5,199.6 L706.2,176.5 L707.0,161.8 L707.7,157.5 L708.5,159.8 L709.2,165.0 L710.0,172.7 L710.7,182.2 L711.5,192.8 L712.2,204.0 L713.0,215.1 L713.7,225.5 L714.5,234.5 L715.2,241.6 L716.0,246.2 L716.7,247.4 L717.5,238.8 L718.2,220.8 L719.0,198.9 L719.7,178.4 L720.5,164.8 L721.2,161.4 L722.0,159.8 L722.7,158.4 L723.5,157.3 L724.2,156.5 L725.0,156.1 L725.7,155.9 L726.5,162.0 L727.2,179.0 L728.0,204.7 L728.7,236.7 L729.5,273.0 L730.2,311.4 L731.0,349.6 L731.7,385.5 L732.5,416.8 L733.2,441.4 L734.0,457.0 L734.7,461.6 L735.5,454.4 L736.2,437.3 L737.0,412.3 L737.7,381.4 L738.5,346.5 L739.2,309.6 L740.0,272.7 L740.7,237.8 L741.5,206.9 L742.2,181.9 L743.0,164.8 L743.7,157.6 L744.5,159.7 L745.2,167.0 L746.0,178.6 L746.7,193.3 L747.5,210.2 L748.2,228.3 L749.0,246.5 L749.7,263.8 L750.5,279.3 L751.2,291.8 L752.0,300.3 L752.7,303.9 L753.5,301.3 L754.2,292.1 L755.0,277.8 L755.7,259.4 L756.5,238.2 L757.2,215.6 L758.0,192.7 L758.7,170.8 L759.5,151.2 L760.2,135.0 L761.0,123.7 L761.7,118.3 L762.5,121.2 L763.2,134.9 L764.0,157.6 L764.7,187.4 L765.5,222.4 L766.2,260.7 L767.0,300.5 L767.7,339.7 L768.5,376.5 L769.2,409.0 L770.0,435.2 L770.7,453.4 L771.5,461.5 L772.2,458.3 L773.0,445.5 L773.7,424.8 L774.5,398.0 L775.2,367.1 L776.0,333.7 L776.7,299.7 L777.5,266.9 L778.2,237.2 L779.0,212.3 L779.7,194.0 L780.5,184.2 L781.2,183.1 L782.0,183.9 L782.7,185.4 L783.5,187.6 L784.2,190.3 L785.0,193.5 L785.7,204.0 L786.5,226.9 L787.2,255.9 L788.0,284.8 L788.7,307.2 L789.5,317.0 L790.2,312.6 L791.0,299.3 L791.7,279.2 L792.5,254.5 L793.2,227.2 L794.0,199.5 L794.7,173.6 L795.5,151.4 L796.2,135.1 L797.0,126.9 L797.7,128.3 L798.5,138.3 L799.2,155.5 L800.0,178.7 L800.7,206.4 L801.5,237.4 L802.2,270.5 L803.0,304.2 L803.7,337.3 L804.5,368.5 L805.2,396.5 L806.0,420.0 L806.7,437.6 L807.5,448.2 L808.2,450.1 L809.0,440.9 L809.7,421.6 L810.5,394.6 L811.2,362.2 L812.0,326.7 L812.7,290.4 L813.5,255.8 L814.2,225.2 L815.0,200.8 L815.7,185.0 L816.5,179.6 L817.2,177.0 L818.0,174.8 L818.7,173.1 L819.5,172.0 L820.2,171.5 L821.0,176.9 L821.7,194.3 L822.5,219.6 L823.2,248.8 L824.0,277.7 L824.7,302.3 L825.5,318.3 L826.2,321.8 L827.0,314.5 L827.7,299.2 L828.5,278.3 L829.2,253.8 L830.0,227.9 L830.7,202.7 L831.5,180.3 L832.2,163.0 L833.0,152.7 L833.7,151.4 L834.5,156.6 L835.2,167.0 L836.0,181.8 L836.7,200.1 L837.5,221.2 L838.2,244.3 L839.0,268.7 L839.7,293.5 L840.5,318.1 L841.2,341.5 L842.0,363.1 L842.7,382.0 L843.5,397.6 L844.2,408.9 L845.0,415.2 L845.7,415.7 L846.5,409.8 L847.2,398.1 L848.0,381.6 L848.7,361.3 L849.5,338.1 L850.2,313.1 L851.0,287.2 L851.7,261.4 L852.5,236.5 L853.2,213.7 L854.0,193.9 L854.7,178.0 L855.5,167.0 L856.2,161.8 L857.0,164.1 L857.7,174.4 L858.5,191.1 L859.2,212.4 L860.0,236.4 L860.7,261.2 L861.5,285.1 L862.2,306.1 L863.0,322.5 L863.7,332.4 L864.5,334.1 L865.2,329.4 L866.0,319.8 L866.7,306.4 L867.5,290.0 L868.2,271.5 L869.0,252.0 L869.7,232.2 L870.5,213.2 L871.2,195.9 L872.0,181.1 L872.7,169.9 L873.5,163.2 L874.2,162.0 L875.0,170.3 L875.7,187.8 L876.5,212.3 L877.2,241.7 L878.0,273.9 L878.7,306.8 L879.5,338.3 L880.2,366.3 L881.0,388.7 L881.7,403.3 L882.5,408.2 L883.2,403.3 L884.0,390.9 L884.7,372.2 L885.5,348.8 L886.2,322.1 L887.0,293.3 L887.7,264.0 L888.5,235.6 L889.2,209.4 L890.0,186.8 L890.7,169.3 L891.5,158.3 L892.2,155.1 L893.0,162.0 L893.7,178.0 L894.5,200.9 L895.2,228.6 L896.0,258.8 L896.7,289.3 L897.5,317.9 L898.2,342.3 L899.0,360.4 L899.7,369.9 L900.5,369.7 L901.2,363.3 L902.0,352.0 L902.7,336.7 L903.5,318.5 L904.2,298.2 L905.0,276.7 L905.7,255.1 L906.5,234.2 L907.2,215.1 L908.0,198.5 L908.7,185.5 L909.5,177.0 L910.2,174.0 L911.0,178.3 L911.7,190.3 L912.5,208.5 L913.2,231.3 L914.0,257.3 L914.7,285.0 L915.5,312.9 L916.2,339.5 L917.0,363.3 L917.7,382.9 L918.5,396.7 L919.2,403.2 L920.0,400.8 L920.7,389.4 L921.5,370.6 L922.2,346.2 L923.0,317.9 L923.7,287.5 L924.5,256.7 L925.2,227.4 L926.0,201.2 L926.7,180.0 L927.5,165.4 L928.2,159.2 L929.0,162.7 L929.7,174.8 L930.5,193.7 L931.2,217.7 L932.0,245.0 L932.7,274.0 L933.5,302.9 L934.2,329.9 L935.0,353.3 L935.7,371.4 L936.5,382.4 L937.2,384.7 L938.0,379.5 L938.7,368.5 L939.5,352.8 L940.2,333.5 L941.0,311.8 L941.7,288.8 L942.5,265.6 L943.2,243.4 L944.0,223.4 L944.7,206.6 L945.5,194.2 L946.2,187.3 L947.0,187.2 L947.7,194.8 L948.5,208.8 L949.2,227.8 L950.0,250.2 L950.7,274.4 L951.5,299.1 L952.2,322.7 L953.0,343.7 L953.7,360.5 L954.5,371.7 L955.2,375.8 L956.0,372.1 L956.7,361.8 L957.5,346.1 L958.2,326.3 L959.0,303.6 L959.7,279.1 L960.5,254.1 L961.2,229.9 L962.0,207.7 L962.7,188.6 L963.5,173.9 L964.2,164.8 L965.0,162.6 L965.7,169.5 L966.5,184.6 L967.2,206.1 L968.0,232.2 L968.7,260.9 L969.5,290.4 L970.2,318.7 L971.0,344.0 L971.7,364.4 L972.5,378.0 L973.2,383.0 L974.0,379.6 L974.7,370.3 L975.5,356.1 L976.2,338.4 L977.0,318.2 L977.7,296.8 L978.5,275.3 L979.2,254.9 L980.0,236.7 L980.7,222.1 L981.5,212.0 L982.2,207.8 L983.0,209.6 L983.7,216.0 L984.5,226.1 L985.2,238.9 L986.0,253.5 L986.7,269.1 L987.5,284.8 L988.2,299.7 L989.0,312.8 L989.7,323.2 L990.5,330.2 L991.2,332.7 L992.0,329.2 L992.7,319.6 L993.5,305.1 L994.2,287.1 L995.0,266.6 L995.7,245.1 L996.5,223.8 L997.2,203.8 L998.0,186.6 L998.7,173.3 L999.5,165.2 L1000.2,163.5 L1001.0,167.8 L1001.7,176.9 L1002.5,190.1 L1003.2,206.4 L1004.0,225.0 L1004.7,245.0 L1005.5,265.6 L1006.2,285.9 L1007.0,305.1 L1007.7,322.3 L1008.5,336.6 L1009.2,347.2 L1010.0,353.2 L1010.7,353.7 L1011.5,348.9 L1012.2,339.5 L1013.0,326.9 L1013.7,312.1 L1014.5,296.1 L1015.2,280.2 L1016.0,265.4 L1016.7,252.8 L1017.5,243.4 L1018.2,238.6 L1019.0,238.1 L1019.7,238.4 L1020.5,238.8 L1021.2,239.3 L1022.0,240.2 L1022.7,244.3 L1023.5,251.6 L1024.2,260.7 L1025.0,270.3 L1025.7,279.3 L1026.5,286.4 L1027.2,290.3 L1028.0,289.6 L1028.7,283.4 L1029.5,272.8 L1030.2,258.7 L1031.0,242.4 L1031.7,224.9 L1032.5,207.3 L1033.2,190.7 L1034.0,176.3 L1034.7,165.1 L1035.5,158.3 L1036.2,156.9 L1037.0,160.4 L1037.7,168.2 L1038.5,179.4 L1039.2,193.5 L1040.0,209.9 L1040.7,227.9 L1041.5,246.9 L1042.2,266.3 L1043.0,285.4 L1043.7,303.6 L1044.5,320.4 L1045.2,335.0 L1046.0,346.9 L1046.7,355.3 L1047.5,359.8 L1048.2,359.9 L1049.0,356.9 L1049.7,351.3 L1050.5,343.7 L1051.2,334.5 L1052.0,324.0 L1052.7,312.6 L1053.5,300.8 L1054.2,289.1 L1055.0,277.7 L1055.7,267.2 L1056.5,258.0 L1057.2,250.4 L1058.0,244.8 L1058.7,241.8 L1059.5,241.7 L1060.2,243.7 L1061.0,246.9 L1061.7,250.2 L1062.5,252.5 L1063.2,252.6 L1064.0,249.8 L1064.7,244.3 L1065.5,236.7 L1066.2,227.5 L1067.0,217.4 L1067.7,206.8 L1068.5,196.3 L1069.2,186.5 L1070.0,177.9 L1070.7,171.0 L1071.5,166.5 L1072.2,164.9 L1073.0,166.7 L1073.7,171.9 L1074.5,180.1 L1075.2,190.7 L1076.0,203.5 L1076.7,217.9 L1077.5,233.7 L1078.2,250.2 L1079.0,267.2 L1079.7,284.2 L1080.5,300.7 L1081.2,316.5 L1082.0,330.9 L1082.7,343.7 L1083.5,354.3 L1084.2,362.5 L1085.0,367.7 L1085.7,369.5 L1086.5,368.0 L1087.2,363.7 L1088.0,357.1 L1088.7,348.6 L1089.5,338.6 L1090.2,327.7 L1091.0,316.2 L1091.7,304.5 L1092.5,293.2 L1093.2,282.6 L1094.0,273.2 L1094.7,265.4 L1095.5,259.3 L1096.2,254.1 L1097.0,249.3 L1097.7,244.8 L1098.5,240.4 L1099.2,235.9 L1100.0,231.2 L1100.7,225.7 L1101.5,219.6 L1102.2,213.0 L1103.0,206.2 L1103.7,199.6 L1104.5,193.3 L1105.2,187.8 L1106.0,183.3 L1106.7,180.0 L1107.5,178.2 L1108.2,178.1 L1109.0,178.5 L1109.7,179.3 L1110.5,180.4 L1111.2,181.8 L1112.0,183.5 L1112.7,185.4 L1113.5,187.5 L1114.2,190.1 L1115.0,196.3 L1115.7,206.5 L1116.5,219.7 L1117.2,235.4 L1118.0,252.8 L1118.7,271.2 L1119.5,289.9 L1120.2,308.2 L1121.0,325.5 L1121.7,340.9 L1122.5,353.8 L1123.2,363.5 L1124.0,369.3 L1124.7,370.5 L1125.5,368.6 L1126.2,364.3 L1127.0,358.1 L1127.7,350.0 L1128.5,340.5 L1129.2,329.7 L1130.0,318.0 L1130.7,305.6 L1131.5,292.7 L1132.2,279.7 L1133.0,266.8 L1133.7,254.3 L1134.5,242.4 L1135.2,231.4 L1136.0,221.6 L1136.7,213.2 L1137.5,206.6 L1138.2,201.9 L1139.0,199.2 L1139.7,197.2 L1140.5,195.5 L1141.2,194.0 L1142.0,192.7 L1142.7,191.5 L1143.5,190.2 L1144.2,189.0 L1145.0,187.6 L1145.7,186.0 L1146.5,184.4 L1147.2,183.0 L1148.0,181.9 L1148.7,181.4 L1149.5,182.1 L1150.2,186.5 L1151.0,194.4 L1151.7,205.4 L1152.5,218.9 L1153.2,234.4 L1154.0,251.6 L1154.7,269.9 L1155.5,288.7 L1156.2,307.7 L1157.0,326.4 L1157.7,344.2 L1158.5,360.7 L1159.2,375.3 L1160.0,387.7 L1160.7,397.3 L1161.5,403.7 L1162.2,406.3 L1163.0,404.8 L1163.7,399.7 L1164.5,391.3 L1165.2,380.2 L1166.0,366.7 L1166.7,351.5 L1167.5,334.8 L1168.2,317.2 L1169.0,299.1 L1169.7,281.1 L1170.5,263.5 L1171.2,246.8 L1172.0,231.6 L1172.7,218.1 L1173.5,207.0 L1174.2,198.6 L1175.0,193.5 L1175.7,192.0 L1176.5,192.5 L1177.2,193.8 L1178.0,195.6 L1178.7,197.9 L1179.5,200.4 L1180.2,203.1 L1181.0,205.7 L1181.7,208.2 L1182.5,210.3 L1183.2,212.0 L1184.0,213.1 L1184.7,213.4 L1185.5,212.2 L1186.2,209.8 L1187.0,206.8 L1187.7,203.9 L1188.5,201.8 L1189.2,201.2 L1190.0,205.0 L1190.7,214.2 L1191.5,228.0 L1192.2,245.4 L1193.0,265.7 L1193.7,287.9 L1194.5,311.3 L1195.2,334.8 L1196.0,357.7 L1196.7,379.1 L1197.5,398.2 L1198.2,414.0 L1199.0,425.8 L1199.7,432.6 L1200.5,433.7 L1201.2,428.7 L1202.0,418.6 L1202.7,404.1 L1203.5,385.9 L1204.2,365.0 L1205.0,342.2 L1205.7,318.2 L1206.5,293.9 L1207.2,270.1 L1208.0,247.6 L1208.7,227.2 L1209.5,209.7 L1210.2,196.0 L1211.0,186.8 L1211.7,183.1 L1212.5,183.8 L1213.2,186.4 L1214.0,190.6 L1214.7,195.9 L1215.5,201.9 L1216.2,208.4 L1217.0,215.0 L1217.7,221.2 L1218.5,226.7 L1219.2,231.2 L1220.0,234.3 L1220.7,235.6 L1221.5,234.2 L1222.2,229.4 L1223.0,222.0 L1223.7,212.6 L1224.5,201.9 L1225.0,193.7" fill="none" stroke="#2F5597" stroke-width="4.0" stroke-linejoin="round" stroke-linecap="round"/>
</g><g clip-path="url(#cb)">
<path d="M221.3,1080.8 L221.7,1090.4 L222.2,1108.1 L222.6,1126.8 L223.0,1135.7 L223.4,1136.0 L223.9,1128.0 L224.3,1124.5 L224.7,1137.8 L225.2,1154.2 L225.6,1168.9 L226.0,1182.3 L226.4,1188.6 L226.9,1188.2 L227.3,1174.9 L227.7,1155.6 L228.2,1139.8 L228.6,1116.7 L229.0,1102.1 L229.5,1086.8 L229.9,1079.2 L230.3,1070.4 L230.7,1071.1 L231.2,1067.8 L231.6,1072.8 L232.0,1085.4 L232.5,1110.6 L232.9,1126.0 L233.3,1136.4 L233.7,1134.9 L234.2,1132.7 L234.6,1129.2 L235.0,1141.4 L235.5,1160.0 L235.9,1175.2 L236.3,1195.8 L236.7,1200.4 L237.2,1194.3 L237.6,1184.9 L238.0,1162.9 L238.5,1137.8 L238.9,1113.5 L239.3,1096.1 L239.8,1076.5 L240.2,1062.5 L240.6,1065.3 L241.0,1058.0 L241.5,1059.2 L241.9,1066.7 L242.3,1072.3 L242.8,1097.5 L243.2,1126.2 L243.6,1135.4 L244.0,1132.6 L244.5,1127.3 L244.9,1123.8 L245.3,1137.8 L245.8,1156.5 L246.2,1176.4 L246.6,1199.4 L247.0,1203.8 L247.5,1201.5 L247.9,1184.6 L248.3,1165.8 L248.8,1137.1 L249.2,1109.4 L249.6,1083.2 L250.0,1065.3 L250.5,1062.0 L250.9,1054.7 L251.3,1049.5 L251.8,1057.4 L252.2,1058.5 L252.6,1071.5 L253.1,1090.0 L253.5,1115.4 L253.9,1131.8 L254.3,1130.4 L254.8,1122.3 L255.2,1115.9 L255.6,1133.6 L256.1,1154.1 L256.5,1174.2 L256.9,1191.9 L257.3,1198.8 L257.8,1197.0 L258.2,1178.4 L258.6,1156.8 L259.1,1125.5 L259.5,1100.9 L259.9,1080.7 L260.3,1062.1 L260.8,1054.5 L261.2,1045.5 L261.6,1046.2 L262.1,1045.4 L262.5,1056.4 L262.9,1065.0 L263.4,1092.2 L263.8,1115.4 L264.2,1122.8 L264.6,1122.8 L265.1,1112.2 L265.5,1105.2 L265.9,1124.7 L266.4,1143.2 L266.8,1160.9 L267.2,1174.8 L267.6,1182.3 L268.1,1177.8 L268.5,1161.3 L268.9,1141.0 L269.4,1121.0 L269.8,1094.4 L270.2,1073.7 L270.6,1061.4 L271.1,1048.1 L271.5,1046.1 L271.9,1041.2 L272.4,1042.3 L272.8,1047.7 L273.2,1061.9 L273.6,1080.6 L274.1,1106.4 L274.5,1115.6 L274.9,1110.2 L275.4,1109.8 L275.8,1100.9 L276.2,1117.9 L276.7,1129.4 L277.1,1152.5 L277.5,1162.2 L277.9,1169.6 L278.4,1170.4 L278.8,1150.3 L279.2,1130.3 L279.7,1111.3 L280.1,1089.1 L280.5,1069.1 L280.9,1056.6 L281.4,1041.6 L281.8,1041.0 L282.2,1038.0 L282.7,1040.9 L283.1,1045.5 L283.5,1059.7 L283.9,1072.9 L284.4,1097.8 L284.8,1106.8 L285.2,1108.2 L285.7,1103.3 L286.1,1101.5 L286.5,1112.9 L286.9,1130.4 L287.4,1151.6 L287.8,1166.4 L288.2,1175.7 L288.7,1169.9 L289.1,1149.6 L289.5,1135.3 L290.0,1112.4 L290.4,1084.9 L290.8,1061.6 L291.2,1054.2 L291.7,1041.1 L292.1,1037.2 L292.5,1038.5 L293.0,1032.8 L293.4,1039.8 L293.8,1052.1 L294.2,1074.4 L294.7,1092.2 L295.1,1106.6 L295.5,1104.2 L296.0,1099.8 L296.4,1099.1 L296.8,1102.7 L297.2,1126.2 L297.7,1143.5 L298.1,1158.9 L298.5,1165.9 L299.0,1162.0 L299.4,1145.7 L299.8,1128.2 L300.3,1104.3 L300.7,1080.5 L301.1,1057.2 L301.5,1043.5 L302.0,1034.6 L302.4,1031.9 L302.8,1032.2 L303.3,1027.4 L303.7,1031.6 L304.1,1046.9 L304.5,1065.0 L305.0,1085.4 L305.4,1097.0 L305.8,1095.4 L306.3,1092.0 L306.7,1085.7 L307.1,1103.8 L307.5,1116.8 L308.0,1137.6 L308.4,1151.4 L308.8,1155.1 L309.3,1152.6 L309.7,1146.7 L310.1,1127.9 L310.5,1096.7 L311.0,1077.7 L311.4,1053.9 L311.8,1035.7 L312.3,1032.5 L312.7,1028.4 L313.1,1019.5 L313.6,1021.0 L314.0,1027.2 L314.4,1039.8 L314.8,1064.3 L315.3,1089.4 L315.7,1098.7 L316.1,1099.9 L316.6,1094.4 L317.0,1087.2 L317.4,1101.0 L317.8,1120.9 L318.3,1147.9 L318.7,1164.1 L319.1,1172.4 L319.6,1167.5 L320.0,1148.9 L320.4,1128.7 L320.8,1098.0 L321.3,1071.1 L321.7,1042.6 L322.1,1035.8 L322.6,1017.5 L323.0,1014.6 L323.4,1012.2 L323.9,1017.6 L324.3,1020.3 L324.7,1030.8 L325.1,1056.6 L325.6,1080.6 L326.0,1095.5 L326.4,1089.4 L326.9,1085.0 L327.3,1090.8 L327.7,1098.3 L328.1,1124.2 L328.6,1151.4 L329.0,1160.0 L329.4,1161.2 L329.9,1160.8 L330.3,1149.3 L330.7,1124.8 L331.1,1090.2 L331.6,1065.6 L332.0,1041.9 L332.4,1024.2 L332.9,1012.2 L333.3,1003.6 L333.7,1003.0 L334.1,1004.2 L334.6,1014.4 L335.0,1024.4 L335.4,1052.8 L335.9,1072.8 L336.3,1095.2 L336.7,1090.0 L337.2,1081.1 L337.6,1084.5 L338.0,1087.5 L338.4,1111.8 L338.9,1143.0 L339.3,1157.5 L339.7,1166.6 L340.2,1171.7 L340.6,1145.1 L341.0,1120.7 L341.4,1090.4 L341.9,1064.8 L342.3,1036.6 L342.7,1017.3 L343.2,1000.5 L343.6,996.9 L344.0,995.7 L344.4,994.4 L344.9,1004.9 L345.3,1019.9 L345.7,1049.9 L346.2,1064.8 L346.6,1081.6 L347.0,1080.0 L347.5,1072.0 L347.9,1072.7 L348.3,1085.5 L348.7,1110.5 L349.2,1135.0 L349.6,1152.4 L350.0,1154.9 L350.5,1153.0 L350.9,1138.4 L351.3,1114.8 L351.7,1085.5 L352.2,1049.0 L352.6,1027.9 L353.0,1011.0 L353.5,1000.7 L353.9,997.4 L354.3,992.0 L354.7,990.9 L355.2,1001.0 L355.6,1016.0 L356.0,1040.6 L356.5,1065.3 L356.9,1085.4 L357.3,1079.4 L357.7,1073.2 L358.2,1066.5 L358.6,1084.7 L359.0,1102.8 L359.5,1123.3 L359.9,1146.6 L360.3,1154.5 L360.8,1147.3 L361.2,1132.3 L361.6,1111.7 L362.0,1079.3 L362.5,1046.9 L362.9,1030.6 L363.3,1013.0 L363.8,1004.6 L364.2,994.6 L364.6,997.8 L365.0,998.7 L365.5,997.4 L365.9,1019.3 L366.3,1036.9 L366.8,1060.6 L367.2,1078.8 L367.6,1076.6 L368.0,1064.2 L368.5,1070.3 L368.9,1084.2 L369.3,1108.8 L369.8,1127.7 L370.2,1140.5 L370.6,1149.4 L371.0,1151.0 L371.5,1135.7 L371.9,1111.5 L372.3,1081.6 L372.8,1056.0 L373.2,1031.3 L373.6,1013.5 L374.1,1004.3 L374.5,997.8 L374.9,995.2 L375.3,997.5 L375.8,1002.1 L376.2,1012.9 L376.6,1041.7 L377.1,1069.4 L377.5,1090.0 L377.9,1082.1 L378.3,1081.8 L378.8,1079.4 L379.2,1085.4 L379.6,1109.3 L380.1,1137.0 L380.5,1160.9 L380.9,1164.5 L381.3,1161.3 L381.8,1140.9 L382.2,1110.8 L382.6,1088.7 L383.1,1063.3 L383.5,1039.9 L383.9,1017.7 L384.4,1006.5 L384.8,1003.8 L385.2,997.6 L385.6,1003.3 L386.1,1002.4 L386.5,1018.5 L386.9,1044.1 L387.4,1076.3 L387.8,1088.3 L388.2,1089.3 L388.6,1081.8 L389.1,1080.9 L389.5,1098.0 L389.9,1122.7 L390.4,1140.5 L390.8,1163.0 L391.2,1169.7 L391.6,1162.2 L392.1,1154.7 L392.5,1125.9 L392.9,1092.7 L393.4,1062.5 L393.8,1039.9 L394.2,1016.3 L394.6,1007.3 L395.1,1006.1 L395.5,1003.2 L395.9,999.2 L396.4,1006.6 L396.8,1030.5 L397.2,1044.9 L397.7,1074.0 L398.1,1086.4 L398.5,1090.8 L398.9,1082.1 L399.4,1083.9 L399.8,1084.9 L400.2,1117.3 L400.7,1135.8 L401.1,1161.5 L401.5,1166.3 L401.9,1167.5 L402.4,1146.8 L402.8,1117.2 L403.2,1095.4 L403.7,1058.5 L404.1,1036.0 L404.5,1022.0 L404.9,1008.2 L405.4,1001.8 L405.8,998.2 L406.2,1000.9 L406.7,1008.3 L407.1,1022.1 L407.5,1049.7 L408.0,1077.0 L408.4,1087.7 L408.8,1083.0 L409.2,1082.5 L409.7,1076.2 L410.1,1091.8 L410.5,1116.4 L411.0,1135.0 L411.4,1158.1 L411.8,1158.9 L412.2,1161.7 L412.7,1140.8 L413.1,1117.4 L413.5,1089.4 L414.0,1055.4 L414.4,1032.7 L414.8,1011.3 L415.2,1001.5 L415.7,998.8 L416.1,993.2 L416.5,993.8 L417.0,997.1 L417.4,1018.9 L417.8,1040.8 L418.2,1072.6 L418.7,1079.2 L419.1,1083.3 L419.5,1077.0 L420.0,1070.0 L420.4,1079.1 L420.8,1110.7 L421.3,1133.4 L421.7,1150.1 L422.1,1158.6 L422.5,1148.4 L423.0,1135.8 L423.4,1110.6 L423.8,1077.3 L424.3,1053.1 L424.7,1024.6 L425.1,1010.9 L425.5,1000.0 L426.0,995.9 L426.4,986.8 L426.8,989.8 L427.3,994.2 L427.7,1010.1 L428.1,1033.6 L428.5,1059.3 L429.0,1067.4 L429.4,1075.3 L429.8,1068.5 L430.3,1065.6 L430.7,1079.1 L431.1,1094.6 L431.6,1117.7 L432.0,1140.7 L432.4,1148.7 L432.8,1140.1 L433.3,1118.3 L433.7,1107.4 L434.1,1068.7 L434.6,1046.2 L435.0,1015.9 L435.4,1005.0 L435.8,991.3 L436.3,989.3 L436.7,985.5 L437.1,981.4 L437.6,986.8 L438.0,1004.7 L438.4,1028.7 L438.8,1055.5 L439.3,1064.0 L439.7,1061.1 L440.1,1053.2 L440.6,1052.0 L441.0,1066.5 L441.4,1083.7 L441.8,1104.9 L442.3,1116.6 L442.7,1120.9 L443.1,1122.7 L443.6,1110.2 L444.0,1086.1 L444.4,1061.8 L444.9,1036.5 L445.3,1012.3 L445.7,998.7 L446.1,983.1 L446.6,979.6 L447.0,976.6 L447.4,978.9 L447.9,986.2 L448.3,1000.8 L448.7,1021.2 L449.1,1045.9 L449.6,1056.9 L450.0,1056.3 L450.4,1052.8 L450.9,1047.5 L451.3,1063.9 L451.7,1083.1 L452.1,1104.6 L452.6,1127.0 L453.0,1127.4 L453.4,1123.1 L453.9,1109.2 L454.3,1087.1 L454.7,1059.9 L455.1,1035.0 L455.6,1009.6 L456.0,993.1 L456.4,979.9 L456.9,978.1 L457.3,971.5 L457.7,972.8 L458.2,979.8 L458.6,995.5 L459.0,1016.1 L459.4,1048.4 L459.9,1055.9 L460.3,1055.3 L460.7,1047.0 L461.2,1045.9 L461.6,1062.2 L462.0,1083.7 L462.4,1104.9 L462.9,1123.7 L463.3,1132.1 L463.7,1133.4 L464.2,1110.8 L464.6,1084.3 L465.0,1056.0 L465.4,1030.0 L465.9,1011.3 L466.3,984.3 L466.7,976.1 L467.2,977.9 L467.6,966.2 L468.0,973.3 L468.5,979.1 L468.9,992.7 L469.3,1011.6 L469.7,1044.2 L470.2,1057.3 L470.6,1050.8 L471.0,1042.7 L471.5,1047.7 L471.9,1062.0 L472.3,1090.0 L472.7,1113.9 L473.2,1129.5 L473.6,1137.8 L474.0,1134.0 L474.5,1113.8 L474.9,1093.8 L475.3,1060.5 L475.7,1027.1 L476.2,1001.3 L476.6,979.8 L477.0,969.6 L477.5,965.5 L477.9,961.1 L478.3,966.8 L478.7,976.0 L479.2,984.6 L479.6,1013.7 L480.0,1040.6 L480.5,1064.2 L480.9,1059.1 L481.3,1051.7 L481.8,1051.2 L482.2,1068.6 L482.6,1085.2 L483.0,1106.5 L483.5,1128.6 L483.9,1142.3 L484.3,1138.5 L484.8,1122.6 L485.2,1112.2 L485.6,1076.2 L486.0,1046.0 L486.5,1020.7 L486.9,998.2 L487.3,987.4 L487.8,983.2 L488.2,980.9 L488.6,981.5 L489.0,988.5 L489.5,997.4 L489.9,1013.7 L490.3,1035.6 L490.8,1063.6 L491.2,1071.5 L491.6,1066.5 L492.1,1057.1 L492.5,1064.3 L492.9,1074.7 L493.3,1103.2 L493.8,1121.3 L494.2,1135.4 L494.6,1137.2 L495.1,1131.0 L495.5,1123.7 L495.9,1101.4 L496.3,1074.7 L496.8,1055.0 L497.2,1038.6 L497.6,1018.0 L498.1,1011.2 L498.5,1007.4 L498.9,1009.3 L499.3,1008.4 L499.8,1015.6 L500.2,1023.2 L500.6,1046.0 L501.1,1065.9 L501.5,1076.8 L501.9,1081.0 L502.3,1072.2 L502.8,1070.2 L503.2,1079.2 L503.6,1091.2 L504.1,1109.5 L504.5,1121.2 L504.9,1133.2 L505.4,1133.1 L505.8,1121.6 L506.2,1105.1 L506.6,1087.7 L507.1,1073.0 L507.5,1055.3 L507.9,1038.7 L508.4,1032.8 L508.8,1029.3 L509.2,1024.8 L509.6,1024.5 L510.1,1028.7 L510.5,1035.9 L510.9,1046.3 L511.4,1057.5 L511.8,1074.7 L512.2,1080.6 L512.6,1078.4 L513.1,1073.1 L513.5,1074.9 L513.9,1080.7 L514.4,1095.4 L514.8,1106.9 L515.2,1117.2 L515.7,1117.3 L516.1,1117.0 L516.5,1110.5 L516.9,1098.0 L517.4,1084.0 L517.8,1068.9 L518.2,1060.8 L518.7,1051.1 L519.1,1044.5 L519.5,1039.3 L519.9,1039.9 L520.4,1040.4 L520.8,1040.6 L521.2,1043.2 L521.7,1055.7 L522.1,1067.4 L522.5,1074.0 L522.9,1077.4 L523.4,1073.8 L523.8,1072.3 L524.2,1070.5 L524.7,1078.4 L525.1,1090.6 L525.5,1100.1 L525.9,1110.4 L526.4,1107.7 L526.8,1105.0 L527.2,1095.4 L527.7,1083.1 L528.1,1071.3 L528.5,1060.6 L529.0,1046.6 L529.4,1040.2 L529.8,1034.3 L530.2,1031.9 L530.7,1030.3 L531.1,1033.4 L531.5,1030.6 L532.0,1038.5 L532.4,1047.7 L532.8,1057.7 L533.2,1067.4 L533.7,1069.9 L534.1,1064.4 L534.5,1063.2 L535.0,1066.4 L535.4,1074.8 L535.8,1088.7 L536.2,1094.0 L536.7,1101.5 L537.1,1098.1 L537.5,1092.9 L538.0,1083.0 L538.4,1069.8 L538.8,1057.0 L539.2,1044.6 L539.7,1036.2 L540.1,1026.5 L540.5,1019.5 L541.0,1019.0 L541.4,1018.6 L541.8,1019.0 L542.3,1025.2 L542.7,1030.3 L543.1,1044.8 L543.5,1055.6 L544.0,1060.4 L544.4,1057.3 L544.8,1054.1 L545.3,1054.2 L545.7,1062.9 L546.1,1072.8 L546.5,1079.7 L547.0,1091.5 L547.4,1094.7 L547.8,1090.6 L548.3,1082.1 L548.7,1072.9 L549.1,1057.2 L549.5,1041.1 L550.0,1029.7 L550.4,1020.4 L550.8,1011.6 L551.3,1011.6 L551.7,1008.7 L552.1,1009.6 L552.6,1008.3 L553.0,1020.2 L553.4,1028.9 L553.8,1041.8 L554.3,1049.2 L554.7,1050.8 L555.1,1045.4 L555.6,1047.5 L556.0,1046.9 L556.4,1058.5 L556.8,1071.7 L557.3,1080.8 L557.7,1090.2 L558.1,1093.3 L558.6,1085.1 L559.0,1076.6 L559.4,1061.0 L559.8,1043.6 L560.3,1029.0 L560.7,1014.5 L561.1,1008.8 L561.6,1005.6 L562.0,1001.3 L562.4,1000.7 L562.8,1002.0 L563.3,1002.8 L563.7,1013.5 L564.1,1029.5 L564.6,1038.4 L565.0,1047.6 L565.4,1045.8 L565.9,1041.6 L566.3,1039.6 L566.7,1047.4 L567.1,1057.6 L567.6,1073.1 L568.0,1084.3 L568.4,1090.0 L568.9,1092.8 L569.3,1082.8 L569.7,1070.2 L570.1,1053.2 L570.6,1039.5 L571.0,1018.2 L571.4,1008.9 L571.9,1002.9 L572.3,998.8 L572.7,993.5 L573.1,992.6 L573.6,995.6 L574.0,999.8 L574.4,1013.0 L574.9,1026.6 L575.3,1043.4 L575.7,1047.7 L576.2,1042.5 L576.6,1034.3 L577.0,1043.1 L577.4,1051.8 L577.9,1067.4 L578.3,1078.8 L578.7,1093.5 L579.2,1096.0 L579.6,1091.5 L580.0,1083.1 L580.4,1067.4 L580.9,1048.1 L581.3,1033.3 L581.7,1016.0 L582.2,1001.5 L582.6,992.2 L583.0,988.4 L583.4,989.9 L583.9,987.2 L584.3,987.3 L584.7,995.9 L585.2,1011.7 L585.6,1030.9 L586.0,1040.2 L586.4,1045.5 L586.9,1041.9 L587.3,1037.2 L587.7,1036.4 L588.2,1051.6 L588.6,1065.7 L589.0,1083.9 L589.5,1089.8 L589.9,1094.9 L590.3,1087.7 L590.7,1068.7 L591.2,1055.0 L591.6,1038.3 L592.0,1018.8 L592.5,1002.2 L592.9,988.8 L593.3,985.4 L593.7,984.5 L594.2,979.9 L594.6,980.1 L595.0,984.3 L595.5,992.0 L595.9,1011.0 L596.3,1027.6 L596.7,1042.6 L597.2,1037.8 L597.6,1029.2 L598.0,1030.6 L598.5,1039.6 L598.9,1055.2 L599.3,1069.0 L599.8,1090.0 L600.2,1096.0 L600.6,1094.1 L601.0,1084.6 L601.5,1071.8 L601.9,1049.8 L602.3,1029.9 L602.8,1009.2 L603.2,993.8 L603.6,985.0 L604.0,975.2 L604.5,970.5 L604.9,973.4 L605.3,973.4 L605.8,977.9 L606.2,997.1 L606.6,1014.6 L607.0,1037.4 L607.5,1040.2 L607.9,1033.8 L608.3,1028.4 L608.8,1036.1 L609.2,1046.4 L609.6,1068.8 L610.0,1090.3 L610.5,1102.5 L610.9,1118.2 L611.3,1107.1 L611.8,1095.9 L612.2,1068.9 L612.6,1046.1 L613.1,1022.3 L613.5,996.3 L613.9,977.5 L614.3,968.6 L614.8,961.2 L615.2,962.4 L615.6,969.1 L616.1,965.6 L616.5,982.8 L616.9,1010.8 L617.3,1038.1 L617.8,1049.3 L618.2,1052.5 L618.6,1045.0 L619.1,1043.6 L619.5,1054.5 L619.9,1090.6 L620.3,1108.7 L620.8,1136.3 L621.2,1146.3 L621.6,1131.3 L622.1,1117.5 L622.5,1093.5 L622.9,1056.7 L623.3,1018.9 L623.8,989.7 L624.2,975.0 L624.6,958.4 L625.1,950.3 L625.5,953.8 L625.9,951.9 L626.4,962.0 L626.8,983.4 L627.2,1013.4 L627.6,1041.9 L628.1,1058.3 L628.5,1058.2 L628.9,1048.1 L629.4,1042.4 L629.8,1063.2 L630.2,1088.9 L630.6,1116.8 L631.1,1140.5 L631.5,1142.2 L631.9,1148.3 L632.4,1122.0 L632.8,1096.8 L633.2,1053.6 L633.6,1020.4 L634.1,1006.3 L634.5,981.1 L634.9,961.3 L635.4,954.1 L635.8,954.3 L636.2,957.8 L636.7,964.5 L637.1,983.8 L637.5,1018.1 L637.9,1045.5 L638.4,1075.9 L638.8,1061.5 L639.2,1058.5 L639.7,1050.8 L640.1,1073.7 L640.5,1106.1 L640.9,1131.4 L641.4,1159.0 L641.8,1167.8 L642.2,1163.6 L642.7,1136.0 L643.1,1102.5 L643.5,1064.3 L643.9,1034.0 L644.4,999.3 L644.8,981.7 L645.2,968.6 L645.7,959.1 L646.1,958.4 L646.5,963.1 L646.9,971.5 L647.4,991.4 L647.8,1021.6 L648.2,1057.1 L648.7,1065.8 L649.1,1068.8 L649.5,1055.3 L650.0,1060.6 L650.4,1073.1 L650.8,1101.6 L651.2,1134.2 L651.7,1145.5 L652.1,1160.1 L652.5,1147.5 L653.0,1130.3 L653.4,1106.4 L653.8,1070.3 L654.2,1033.0 L654.7,1005.6 L655.1,984.5 L655.5,972.6 L656.0,972.1 L656.4,963.9 L656.8,973.8 L657.2,972.1 L657.7,995.9 L658.1,1026.0 L658.5,1054.5 L659.0,1068.6 L659.4,1072.4 L659.8,1063.9 L660.3,1061.4 L660.7,1081.9 L661.1,1105.3 L661.5,1123.6 L662.0,1154.3 L662.4,1155.3 L662.8,1156.4 L663.3,1130.2 L663.7,1103.3 L664.1,1068.6 L664.5,1033.2 L665.0,1000.7 L665.4,986.3 L665.8,973.8 L666.3,971.6 L666.7,965.0 L667.1,969.0 L667.5,973.1 L668.0,995.4 L668.4,1017.9 L668.8,1061.8 L669.3,1070.9 L669.7,1063.8 L670.1,1059.0 L670.5,1060.9 L671.0,1075.2 L671.4,1106.5 L671.8,1128.4 L672.3,1139.6 L672.7,1152.1 L673.1,1154.2 L673.6,1134.3 L674.0,1104.1 L674.4,1065.8 L674.8,1040.5 L675.3,1012.6 L675.7,986.5 L676.1,974.0 L676.6,972.4 L677.0,973.4 L677.4,977.0 L677.8,982.0 L678.3,1006.8 L678.7,1024.7 L679.1,1059.8 L679.6,1071.3 L680.0,1063.5 L680.4,1056.8 L680.8,1066.1 L681.3,1075.0 L681.7,1101.3 L682.1,1136.9 L682.6,1158.3 L683.0,1163.0 L683.4,1162.5 L683.9,1131.0 L684.3,1116.9 L684.7,1078.3 L685.1,1042.4 L685.6,1014.4 L686.0,992.5 L686.4,979.4 L686.9,974.9 L687.3,971.2 L687.7,982.4 L688.1,982.5 L688.6,1004.1 L689.0,1030.2 L689.4,1059.4 L689.9,1079.4 L690.3,1075.7 L690.7,1060.8 L691.1,1062.7 L691.6,1083.0 L692.0,1099.7 L692.4,1126.4 L692.9,1160.8 L693.3,1161.7 L693.7,1147.3 L694.1,1134.9 L694.6,1108.6 L695.0,1077.3 L695.4,1046.2 L695.9,1017.4 L696.3,998.4 L696.7,980.7 L697.2,978.7 L697.6,977.0 L698.0,982.0 L698.4,985.9 L698.9,1008.4 L699.3,1035.6 L699.7,1061.2 L700.2,1080.1 L700.6,1077.2 L701.0,1068.4 L701.4,1070.0 L701.9,1087.8 L702.3,1116.7 L702.7,1141.6 L703.2,1170.3 L703.6,1169.3 L704.0,1167.8 L704.4,1150.9 L704.9,1120.3 L705.3,1086.8 L705.7,1050.1 L706.2,1025.1 L706.6,997.0 L707.0,991.4 L707.4,990.8 L707.9,982.8 L708.3,989.7 L708.7,990.3 L709.2,1004.8 L709.6,1035.8 L710.0,1073.7 L710.5,1087.8 L710.9,1075.9 L711.3,1072.0 L711.7,1072.8 L712.2,1084.5 L712.6,1106.1 L713.0,1138.4 L713.5,1163.3 L713.9,1170.6 L714.3,1163.9 L714.7,1150.0 L715.2,1123.5 L715.6,1086.5 L716.0,1058.0 L716.5,1027.1 L716.9,1006.1 L717.3,984.7 L717.7,990.3 L718.2,985.6 L718.6,987.5 L719.0,992.9 L719.5,1008.5 L719.9,1042.8 L720.3,1073.8 L720.8,1093.7 L721.2,1089.5 L721.6,1074.8 L722.0,1075.8 L722.5,1094.9 L722.9,1118.8 L723.3,1145.0 L723.8,1163.9 L724.2,1176.7 L724.6,1170.1 L725.0,1157.9 L725.5,1127.9 L725.9,1085.3 L726.3,1067.5 L726.8,1033.3 L727.2,1010.9 L727.6,1000.2 L728.0,995.3 L728.5,990.5 L728.9,991.8 L729.3,999.4 L729.8,1023.0 L730.2,1043.9 L730.6,1075.4 L731.0,1090.9 L731.5,1086.8 L731.9,1075.9 L732.3,1073.2 L732.8,1092.4 L733.2,1112.6 L733.6,1138.9 L734.1,1159.8 L734.5,1167.8 L734.9,1169.2 L735.3,1151.8 L735.8,1120.7 L736.2,1096.4 L736.6,1057.8 L737.1,1032.1 L737.5,1009.9 L737.9,1001.2 L738.3,990.4 L738.8,984.2 L739.2,982.7 L739.6,988.1 L740.1,1009.4 L740.5,1038.3 L740.9,1071.9 L741.3,1085.7 L741.8,1087.8 L742.2,1074.5 L742.6,1067.8 L743.1,1089.5 L743.5,1122.8 L743.9,1150.1 L744.4,1175.6 L744.8,1185.2 L745.2,1170.9 L745.6,1157.0 L746.1,1134.9 L746.5,1090.9 L746.9,1052.8 L747.4,1028.4 L747.8,1006.0 L748.2,989.1 L748.6,978.2 L749.1,974.9 L749.5,974.6 L749.9,979.1 L750.4,997.5 L750.8,1027.5 L751.2,1064.7 L751.6,1095.4 L752.1,1089.6 L752.5,1076.9 L752.9,1077.2 L753.4,1087.0 L753.8,1122.4 L754.2,1157.9 L754.6,1173.3 L755.1,1189.1 L755.5,1187.1 L755.9,1164.1 L756.4,1131.5 L756.8,1096.2 L757.2,1069.8 L757.7,1027.5 L758.1,1000.3 L758.5,985.6 L758.9,970.9 L759.4,966.8 L759.8,971.2 L760.2,981.6 L760.7,986.4 L761.1,1030.6 L761.5,1071.2 L761.9,1087.9 L762.4,1087.8 L762.8,1081.5 L763.2,1070.8 L763.7,1092.5 L764.1,1126.0 L764.5,1155.9 L764.9,1180.9 L765.4,1201.0 L765.8,1192.6 L766.2,1173.9 L766.7,1126.3 L767.1,1102.3 L767.5,1050.7 L768.0,1021.0 L768.4,994.0 L768.8,972.3 L769.2,962.4 L769.7,962.1 L770.1,963.5 L770.5,976.1 L771.0,995.9 L771.4,1024.9 L771.8,1062.8 L772.2,1083.9 L772.7,1090.4 L773.1,1076.2 L773.5,1070.1 L774.0,1091.8 L774.4,1130.4 L774.8,1163.7 L775.2,1192.6 L775.7,1192.2 L776.1,1200.1 L776.5,1170.9 L777.0,1141.6 L777.4,1097.5 L777.8,1061.3 L778.2,1031.8 L778.7,1006.1 L779.1,987.9 L779.5,978.6 L780.0,978.7 L780.4,977.8 L780.8,978.0 L781.3,1010.9 L781.7,1033.4 L782.1,1074.1 L782.5,1093.0 L783.0,1092.4 L783.4,1085.9 L783.8,1078.0 L784.3,1101.4 L784.7,1117.8 L785.1,1156.8 L785.5,1176.9 L786.0,1191.4 L786.4,1200.0 L786.8,1174.3 L787.3,1140.8 L787.7,1099.9 L788.1,1069.3 L788.5,1038.1 L789.0,1021.0 L789.4,994.2 L789.8,987.3 L790.3,989.0 L790.7,991.1 L791.1,1002.8 L791.5,1008.8 L792.0,1028.7 L792.4,1067.3 L792.8,1086.2 L793.3,1091.3 L793.7,1087.8 L794.1,1074.8 L794.6,1094.9 L795.0,1114.3 L795.4,1139.2 L795.8,1158.3 L796.3,1170.5 L796.7,1168.2 L797.1,1157.5 L797.6,1135.1 L798.0,1100.8 L798.4,1073.4 L798.8,1048.9 L799.3,1028.6 L799.7,1012.8 L800.1,1010.3 L800.6,1005.7 L801.0,1007.0 L801.4,1005.6 L801.8,1017.6 L802.3,1034.8 L802.7,1073.1 L803.1,1089.0 L803.6,1086.3 L804.0,1082.0 L804.4,1078.0 L804.9,1080.2 L805.3,1107.2 L805.7,1133.8 L806.1,1153.8 L806.6,1158.7 L807.0,1157.2 L807.4,1149.6 L807.9,1126.5 L808.3,1094.7 L808.7,1066.6 L809.1,1045.5 L809.6,1022.1 L810.0,1009.3 L810.4,1009.7 L810.9,1002.1 L811.3,1000.0 L811.7,1007.4 L812.1,1024.1 L812.6,1039.4 L813.0,1061.7 L813.4,1077.4 L813.9,1092.3 L814.3,1069.8 L814.7,1077.2 L815.1,1078.7 L815.6,1097.3 L816.0,1121.3 L816.4,1143.3 L816.9,1157.8 L817.3,1151.7 L817.7,1144.6 L818.2,1129.8 L818.6,1087.0 L819.0,1066.5 L819.4,1038.3 L819.9,1027.5 L820.3,1006.9 L820.7,1000.0 L821.2,1000.0 L821.6,1001.4 L822.0,1009.4 L822.4,1017.8 L822.9,1045.9 L823.3,1071.0 L823.7,1084.9 L824.2,1092.6 L824.6,1082.7 L825.0,1078.0 L825.4,1079.6 L825.9,1102.4 L826.3,1132.2 L826.7,1149.6 L827.2,1168.8 L827.6,1168.1 L828.0,1152.4 L828.5,1138.2 L828.9,1107.0 L829.3,1080.9 L829.7,1048.9 L830.2,1022.1 L830.6,1015.8 L831.0,1004.1 L831.5,1004.6 L831.9,1005.5 L832.3,1010.3 L832.7,1013.4 L833.2,1033.9 L833.6,1070.9 L834.0,1098.3 L834.5,1098.6 L834.9,1094.8 L835.3,1085.2 L835.7,1096.2 L836.2,1119.8 L836.6,1147.8 L837.0,1177.7 L837.5,1192.1 L837.9,1197.8 L838.3,1179.3 L838.7,1158.1 L839.2,1121.1 L839.6,1090.4 L840.0,1055.5 L840.5,1029.8 L840.9,1020.5 L841.3,1008.7 L841.8,1005.2 L842.2,1000.0 L842.6,1000.0 L843.0,1016.0 L843.5,1045.7 L843.9,1070.4 L844.3,1106.5 L844.8,1100.7 L845.2,1100.8 L845.6,1102.7 L846.0,1089.9 L846.5,1117.5 L846.9,1157.1 L847.3,1177.9 L847.8,1194.3 L848.2,1193.9 L848.6,1187.0 L849.0,1158.8 L849.5,1122.0 L849.9,1088.5 L850.3,1053.2 L850.8,1032.6 L851.2,1006.4 L851.6,1008.7 L852.0,1000.6 L852.5,1009.0 L852.9,1010.8 L853.3,1013.8 L853.8,1048.1 L854.2,1074.8 L854.6,1102.8 L855.1,1113.7 L855.5,1102.7 L855.9,1096.5 L856.3,1104.5 L856.8,1123.3 L857.2,1154.0 L857.6,1185.7 L858.1,1202.9 L858.5,1199.1 L858.9,1186.9 L859.3,1156.5 L859.8,1116.7 L860.2,1088.6 L860.6,1059.8 L861.1,1034.6 L861.5,1019.7 L861.9,1009.7 L862.3,1005.7 L862.8,1002.9 L863.2,1007.2 L863.6,1015.2 L864.1,1044.1 L864.5,1074.9 L864.9,1104.2 L865.4,1100.2 L865.8,1096.6 L866.2,1084.3 L866.6,1095.0 L867.1,1114.3 L867.5,1149.5 L867.9,1170.9 L868.4,1178.2 L868.8,1194.4 L869.2,1172.5 L869.6,1146.3 L870.1,1119.6 L870.5,1084.9 L870.9,1052.3 L871.4,1035.1 L871.8,1014.2 L872.2,1009.3 L872.6,1004.3 L873.1,1003.5 L873.5,1005.5 L873.9,1015.8 L874.4,1036.9 L874.8,1073.2 L875.2,1084.4 L875.6,1094.6 L876.1,1088.9 L876.5,1085.7 L876.9,1090.3 L877.4,1107.8 L877.8,1134.3 L878.2,1165.0 L878.7,1170.7 L879.1,1165.0 L879.5,1171.5 L879.9,1139.6 L880.4,1113.1 L880.8,1083.9 L881.2,1049.8 L881.7,1035.8 L882.1,1014.8 L882.5,1000.6 L882.9,1002.4 L883.4,1002.6 L883.8,1004.1 L884.2,1016.8 L884.7,1030.9 L885.1,1068.5 L885.5,1086.1 L885.9,1101.9 L886.4,1088.3 L886.8,1084.1 L887.2,1098.6 L887.7,1108.9 L888.1,1139.3 L888.5,1161.1 L889.0,1169.0 L889.4,1181.9 L889.8,1171.7 L890.2,1141.3 L890.7,1117.5 L891.1,1080.8 L891.5,1055.9 L892.0,1036.5 L892.4,1016.6 L892.8,1001.8 L893.2,1000.0 L893.7,1001.1 L894.1,1004.3 L894.5,1015.7 L895.0,1039.5 L895.4,1060.1 L895.8,1093.4 L896.2,1107.1 L896.7,1098.3 L897.1,1086.1 L897.5,1091.9 L898.0,1115.7 L898.4,1146.4 L898.8,1170.1 L899.2,1193.9 L899.7,1196.2 L900.1,1177.5 L900.5,1159.9 L901.0,1125.7 L901.4,1088.6 L901.8,1059.1 L902.3,1035.6 L902.7,1008.8 L903.1,1003.7 L903.5,1002.6 L904.0,999.0 L904.4,1001.8 L904.8,1018.0 L905.3,1037.1 L905.7,1069.9 L906.1,1105.2 L906.5,1108.4 L907.0,1102.4 L907.4,1094.6 L907.8,1104.6 L908.3,1120.7 L908.7,1149.4 L909.1,1176.9 L909.5,1200.4 L910.0,1197.5 L910.4,1194.7 L910.8,1167.0 L911.3,1128.2 L911.7,1100.8 L912.1,1066.2 L912.6,1031.7 L913.0,1018.1 L913.4,1005.8 L913.8,998.0 L914.3,996.5 L914.7,1010.5 L915.1,1016.0 L915.6,1040.6 L916.0,1074.6 L916.4,1103.6 L916.8,1115.5 L917.3,1104.2 L917.7,1100.2 L918.1,1100.4 L918.6,1121.5 L919.0,1158.2 L919.4,1184.5 L919.8,1198.1 L920.3,1209.5 L920.7,1203.4 L921.1,1176.4 L921.6,1146.1 L922.0,1102.7 L922.4,1063.7 L922.8,1041.3 L923.3,1017.0 L923.7,997.9 L924.1,999.0 L924.6,994.4 L925.0,1003.4 L925.4,1014.4 L925.9,1038.3 L926.3,1062.4 L926.7,1107.5 L927.1,1122.1 L927.6,1115.9 L928.0,1103.9 L928.4,1104.7 L928.9,1130.8 L929.3,1156.9 L929.7,1199.0 L930.1,1215.9 L930.6,1227.6 L931.0,1214.6 L931.4,1197.6 L931.9,1154.0 L932.3,1112.1 L932.7,1073.3 L933.1,1049.6 L933.6,1011.9 L934.0,1004.0 L934.4,997.7 L934.9,995.4 L935.3,998.9 L935.7,1008.2 L936.2,1042.4 L936.6,1078.5 L937.0,1107.5 L937.4,1123.4 L937.9,1119.6 L938.3,1109.8 L938.7,1114.8 L939.2,1134.6 L939.6,1163.5 L940.0,1207.7 L940.4,1218.0 L940.9,1227.7 L941.3,1222.8 L941.7,1190.6 L942.2,1164.3 L942.6,1124.4 L943.0,1083.1 L943.4,1046.4 L943.9,1022.8 L944.3,1009.6 L944.7,1000.0 L945.2,1008.9 L945.6,1000.0 L946.0,1020.6 L946.4,1042.1 L946.9,1077.5 L947.3,1115.3 L947.7,1131.7 L948.2,1124.4 L948.6,1109.0 L949.0,1109.1 L949.5,1131.3 L949.9,1171.8 L950.3,1203.3 L950.7,1226.2 L951.2,1227.1 L951.6,1228.7 L952.0,1188.6 L952.5,1160.8 L952.9,1121.9 L953.3,1077.9 L953.7,1042.1 L954.2,1021.7 L954.6,1003.9 L955.0,1001.0 L955.5,998.4 L955.9,998.2 L956.3,1013.9 L956.7,1031.2 L957.2,1073.6 L957.6,1109.0 L958.0,1130.2 L958.5,1122.1 L958.9,1105.9 L959.3,1117.9 L959.7,1130.7 L960.2,1166.3 L960.6,1200.6 L961.0,1236.1 L961.5,1234.1 L961.9,1221.1 L962.3,1202.5 L962.8,1161.9 L963.2,1132.1 L963.6,1077.2 L964.0,1049.7 L964.5,1017.6 L964.9,1015.3 L965.3,995.5 L965.8,997.7 L966.2,995.3 L966.6,1014.7 L967.0,1038.0 L967.5,1061.7 L967.9,1113.3 L968.3,1130.8 L968.8,1123.9 L969.2,1115.8 L969.6,1106.6 L970.0,1126.3 L970.5,1173.6 L970.9,1214.2 L971.3,1225.1 L971.8,1234.1 L972.2,1225.6 L972.6,1197.4 L973.1,1169.1 L973.5,1122.3 L973.9,1086.4 L974.3,1051.5 L974.8,1014.2 L975.2,1006.7 L975.6,992.3 L976.1,993.1 L976.5,999.6 L976.9,1004.3 L977.3,1025.5 L977.8,1070.6 L978.2,1115.8 L978.6,1124.6 L979.1,1113.6 L979.5,1111.0 L979.9,1115.4 L980.3,1130.4 L980.8,1170.8 L981.2,1211.9 L981.6,1232.1 L982.1,1241.1 L982.5,1224.5 L982.9,1197.8 L983.3,1153.6 L983.8,1112.1 L984.2,1081.7 L984.6,1037.3 L985.1,1010.1 L985.5,997.2 L985.9,989.2 L986.4,993.2 L986.8,998.7 L987.2,1002.3 L987.6,1039.9 L988.1,1085.2 L988.5,1105.5 L988.9,1129.1 L989.4,1119.6 L989.8,1113.8 L990.2,1118.3 L990.6,1143.3 L991.1,1176.4 L991.5,1207.9 L991.9,1244.4 L992.4,1234.7 L992.8,1231.3 L993.2,1201.2 L993.6,1152.1 L994.1,1111.3 L994.5,1076.7 L994.9,1025.3 L995.4,1014.5 L995.8,994.4 L996.2,987.9 L996.7,986.0 L997.1,993.9 L997.5,1000.6 L997.9,1038.7 L998.4,1070.0 L998.8,1114.8 L999.2,1125.7 L999.7,1105.5 L1000.1,1102.8 L1000.5,1110.6 L1000.9,1127.2 L1001.4,1174.4 L1001.8,1214.8 L1002.2,1228.7 L1002.7,1242.2 L1003.1,1215.9 L1003.5,1184.9 L1003.9,1152.9 L1004.4,1108.9 L1004.8,1063.7 L1005.2,1031.3 L1005.7,1013.1 L1006.1,991.9 L1006.5,998.9 L1006.9,990.1 L1007.4,994.8 L1007.8,1009.3 L1008.2,1036.6 L1008.7,1084.6 L1009.1,1109.0 L1009.5,1123.3 L1010.0,1116.1 L1010.4,1110.0 L1010.8,1117.4 L1011.2,1137.8 L1011.7,1181.1 L1012.1,1208.9 L1012.5,1223.8 L1013.0,1226.3 L1013.4,1208.0 L1013.8,1186.3 L1014.2,1149.8 L1014.7,1096.4 L1015.1,1060.2 L1015.5,1024.6 L1016.0,1008.3 L1016.4,990.1 L1016.8,988.4 L1017.2,988.4 L1017.7,993.0 L1018.1,1009.4 L1018.5,1040.9 L1019.0,1080.5 L1019.4,1108.1 L1019.8,1123.7 L1020.2,1102.7 L1020.7,1103.2 L1021.1,1107.8 L1021.5,1141.6 L1022.0,1178.5 L1022.4,1199.0 L1022.8,1228.6 L1023.3,1234.3 L1023.7,1215.0 L1024.1,1182.0 L1024.5,1130.1 L1025.0,1097.2 L1025.4,1055.3 L1025.8,1034.2 L1026.3,1007.1 L1026.7,994.0 L1027.1,990.4 L1027.5,995.7 L1028.0,995.3 L1028.4,1013.7 L1028.8,1051.5 L1029.3,1086.1 L1029.7,1116.9 L1030.1,1133.2 L1030.5,1108.5 L1031.0,1101.5 L1031.4,1117.9 L1031.8,1151.9 L1032.3,1174.6 L1032.7,1211.1 L1033.1,1224.6 L1033.6,1222.5 L1034.0,1214.1 L1034.4,1175.9 L1034.8,1140.6 L1035.3,1097.6 L1035.7,1059.7 L1036.1,1029.6 L1036.6,1004.3 L1037.0,998.1 L1037.4,995.0 L1037.8,995.9 L1038.3,999.6 L1038.7,1023.9 L1039.1,1055.0 L1039.6,1092.7 L1040.0,1123.7 L1040.4,1126.3 L1040.8,1117.4 L1041.3,1098.6 L1041.7,1115.6 L1042.1,1151.3 L1042.6,1190.9 L1043.0,1210.5 L1043.4,1235.9 L1043.8,1236.6 L1044.3,1215.5 L1044.7,1182.2 L1045.1,1135.1 L1045.6,1099.1 L1046.0,1050.1 L1046.4,1035.2 L1046.9,1007.6 L1047.3,1005.4 L1047.7,994.5 L1048.1,998.7 L1048.6,1005.0 L1049.0,1020.2 L1049.4,1054.1 L1049.9,1107.7 L1050.3,1132.1 L1050.7,1140.6 L1051.1,1120.7 L1051.6,1117.1 L1052.0,1134.8 L1052.4,1170.8 L1052.9,1208.5 L1053.3,1242.0 L1053.7,1251.4 L1054.1,1243.1 L1054.6,1239.0 L1055.0,1193.2 L1055.4,1150.4 L1055.9,1100.5 L1056.3,1068.3 L1056.7,1033.7 L1057.2,1018.6 L1057.6,999.0 L1058.0,998.3 L1058.4,1001.0 L1058.9,1007.0 L1059.3,1032.5 L1059.7,1077.2 L1060.2,1108.4 L1060.6,1137.1 L1061.0,1140.5 L1061.4,1121.6 L1061.9,1116.7 L1062.3,1147.4 L1062.7,1181.6 L1063.2,1209.0 L1063.6,1240.6 L1064.0,1266.3 L1064.4,1263.1 L1064.9,1236.1 L1065.3,1197.1 L1065.7,1157.2 L1066.2,1103.1 L1066.6,1070.4 L1067.0,1040.3 L1067.4,1010.1 L1067.9,1008.6 L1068.3,1002.0 L1068.7,1000.2 L1069.2,1008.7 L1069.6,1038.1 L1070.0,1074.6 L1070.5,1120.5 L1070.9,1131.6 L1071.3,1136.3 L1071.7,1132.3 L1072.2,1124.3 L1072.6,1140.3 L1073.0,1177.1 L1073.5,1208.2 L1073.9,1239.1 L1074.3,1260.9 L1074.7,1251.4 L1075.2,1232.5 L1075.6,1186.7 L1076.0,1142.7 L1076.5,1085.8 L1076.9,1061.4 L1077.3,1044.6 L1077.7,1019.8 L1078.2,1007.0 L1078.6,1011.0 L1079.0,1011.2 L1079.5,1018.7 L1079.9,1038.9 L1080.3,1079.0 L1080.8,1121.5 L1081.2,1134.5 L1081.6,1138.3 L1082.0,1125.6 L1082.5,1129.1 L1082.9,1146.4 L1083.3,1173.7 L1083.8,1220.3 L1084.2,1238.5 L1084.6,1244.5 L1085.0,1240.9 L1085.5,1212.5 L1085.9,1181.8 L1086.3,1127.9 L1086.8,1087.8 L1087.2,1057.4 L1087.6,1041.5 L1088.0,1022.6 L1088.5,1006.4 L1088.9,1006.5 L1089.3,1008.8 L1089.8,1014.5 L1090.2,1045.6 L1090.6,1078.2 L1091.0,1111.5 L1091.5,1126.6 L1091.9,1130.9 L1092.3,1108.7 L1092.8,1107.5 L1093.2,1137.1 L1093.6,1168.4 L1094.1,1191.3 L1094.5,1216.5 L1094.9,1230.4 L1095.3,1208.0 L1095.8,1187.6 L1096.2,1157.3 L1096.6,1109.5 L1097.1,1082.1 L1097.5,1056.2 L1097.9,1031.3 L1098.3,1023.0 L1098.8,1015.5 L1099.2,1009.8 L1099.6,1015.6 L1100.1,1024.7 L1100.5,1037.0 L1100.9,1071.2 L1101.3,1100.8 L1101.8,1115.3 L1102.2,1110.5 L1102.6,1096.9 L1103.1,1104.3 L1103.5,1115.1 L1103.9,1153.6 L1104.4,1177.7 L1104.8,1200.0 L1105.2,1201.0 L1105.6,1189.8 L1106.1,1165.5 L1106.5,1143.9 L1106.9,1107.6 L1107.4,1076.6 L1107.8,1050.9 L1108.2,1033.1 L1108.6,1016.2 L1109.1,1017.5 L1109.5,1008.7 L1109.9,1011.8 L1110.4,1024.7 L1110.8,1048.1 L1111.2,1081.6 L1111.6,1098.2 L1112.1,1124.0 L1112.5,1106.8 L1112.9,1101.7 L1113.4,1109.5 L1113.8,1133.9 L1114.2,1155.6 L1114.6,1182.3 L1115.1,1213.2 L1115.5,1216.3 L1115.9,1200.9 L1116.4,1180.3 L1116.8,1140.3 L1117.2,1114.3 L1117.7,1074.4 L1118.1,1053.0 L1118.5,1017.9 L1118.9,1017.6 L1119.4,1018.1 L1119.8,1007.8 L1120.2,1011.4 L1120.7,1014.4 L1121.1,1049.6 L1121.5,1083.8 L1121.9,1112.8 L1122.4,1120.6 L1122.8,1121.0 L1123.2,1106.8 L1123.7,1115.0 L1124.1,1143.3 L1124.5,1175.9 L1124.9,1208.1 L1125.4,1233.3 L1125.8,1228.4 L1126.2,1228.3 L1126.7,1189.6 L1127.1,1153.6 L1127.5,1117.7 L1127.9,1082.6 L1128.4,1048.7 L1128.8,1023.3 L1129.2,1008.9 L1129.7,1005.1 L1130.1,1004.0 L1130.5,1012.5 L1131.0,1023.1 L1131.4,1061.0 L1131.8,1089.4 L1132.2,1126.0 L1132.7,1140.4 L1133.1,1123.8 L1133.5,1116.7 L1134.0,1142.5 L1134.4,1156.8 L1134.8,1202.4 L1135.2,1224.4 L1135.7,1239.0 L1136.1,1258.1 L1136.5,1239.9 L1137.0,1210.1 L1137.4,1165.4 L1137.8,1118.9 L1138.2,1074.0 L1138.7,1052.1 L1139.1,1015.7 L1139.5,1015.1 L1140.0,1002.9 L1140.4,1001.9 L1140.8,1005.3 L1141.3,1030.4 L1141.7,1061.6 L1142.1,1102.7 L1142.5,1134.8 L1143.0,1138.2 L1143.4,1140.4 L1143.8,1121.9 L1144.3,1131.5 L1144.7,1162.8 L1145.1,1203.0 L1145.5,1232.3 L1146.0,1258.5 L1146.4,1258.0 L1146.8,1241.2 L1147.3,1200.6 L1147.7,1176.0 L1148.1,1112.8 L1148.5,1078.6 L1149.0,1045.1 L1149.4,1025.8 L1149.8,1017.4 L1150.3,1004.0 L1150.7,1005.0 L1151.1,1004.6 L1151.5,1032.1 L1152.0,1050.2 L1152.4,1098.2 L1152.8,1133.0 L1153.3,1142.9 L1153.7,1131.6 L1154.1,1124.6 L1154.6,1132.6 L1155.0,1160.6 L1155.4,1199.8 L1155.8,1238.9 L1156.3,1251.4 L1156.7,1254.6 L1157.1,1230.5 L1157.6,1187.9 L1158.0,1151.0 L1158.4,1110.4 L1158.8,1076.0 L1159.3,1042.4 L1159.7,1021.8 L1160.1,996.9 L1160.6,999.1 L1161.0,994.6 L1161.4,1004.3 L1161.8,1018.6 L1162.3,1045.4 L1162.7,1097.8 L1163.1,1126.8 L1163.6,1135.2 L1164.0,1114.7 L1164.4,1116.6 L1164.9,1129.5 L1165.3,1162.3 L1165.7,1200.7 L1166.1,1223.3 L1166.6,1230.1 L1167.0,1247.3 L1167.4,1217.8 L1167.9,1186.9 L1168.3,1150.4 L1168.7,1100.9 L1169.1,1060.0 L1169.6,1030.5 L1170.0,995.7 L1170.4,1003.3 L1170.9,986.7 L1171.3,986.8 L1171.7,998.2 L1172.1,1013.3 L1172.6,1043.9 L1173.0,1089.2 L1173.4,1117.6 L1173.9,1120.8 L1174.3,1122.5 L1174.7,1097.5 L1175.1,1107.2 L1175.6,1146.2 L1176.0,1184.5 L1176.4,1228.7 L1176.9,1239.0 L1177.3,1240.7 L1177.7,1219.2 L1178.2,1176.1 L1178.6,1141.5 L1179.0,1092.9 L1179.4,1061.8 L1179.9,1021.5 L1180.3,999.3 L1180.7,992.0 L1181.2,987.4 L1181.6,981.8 L1182.0,997.8 L1182.4,1017.0 L1182.9,1051.3 L1183.3,1083.0 L1183.7,1107.2 L1184.2,1119.9 L1184.6,1113.0 L1185.0,1105.9 L1185.4,1113.7 L1185.9,1157.5 L1186.3,1184.1 L1186.7,1215.6 L1187.2,1238.5 L1187.6,1232.6 L1188.0,1210.8 L1188.5,1171.2 L1188.9,1141.0 L1189.3,1085.3 L1189.7,1054.1 L1190.2,1026.1 L1190.6,1002.2 L1191.0,993.4 L1191.5,993.6 L1191.9,997.9 L1192.3,1002.8 L1192.7,1011.5 L1193.2,1044.8 L1193.6,1092.4 L1194.0,1116.8 L1194.5,1127.6 L1194.9,1113.2 L1195.3,1106.9 L1195.7,1129.9 L1196.2,1162.7 L1196.6,1194.7 L1197.0,1226.4 L1197.5,1244.3 L1197.9,1233.0 L1198.3,1214.6 L1198.7,1173.2 L1199.2,1136.0 L1199.6,1094.7 L1200.0,1055.3 L1200.5,1028.6 L1200.9,1012.8 L1201.3,1001.9 L1201.8,995.2 L1202.2,995.5 L1202.6,1000.3 L1203.0,1035.5 L1203.5,1064.1 L1203.9,1103.0 L1204.3,1124.6 L1204.8,1128.3 L1205.2,1116.6 L1205.6,1106.9 L1206.0,1126.3 L1206.5,1164.7 L1206.9,1188.2 L1207.3,1217.2 L1207.8,1237.3 L1208.2,1225.5 L1208.6,1211.2 L1209.0,1168.1 L1209.5,1133.7 L1209.9,1095.6 L1210.3,1058.2 L1210.8,1033.5 L1211.2,1012.0 L1211.6,1003.2 L1212.0,1000.7 L1212.5,1005.0 L1212.9,1027.6 L1213.3,1030.7 L1213.8,1073.5 L1214.2,1100.1 L1214.6,1118.0 L1215.1,1121.3 L1215.5,1112.8 L1215.9,1109.3 L1216.3,1125.7 L1216.8,1158.3 L1217.2,1191.5 L1217.6,1218.1 L1218.1,1219.4 L1218.5,1219.0 L1218.9,1193.4 L1219.3,1165.9 L1219.8,1125.8 L1220.2,1088.6 L1220.6,1052.8 L1221.1,1026.7 L1221.5,1013.7 L1221.9,1009.7 L1222.3,1007.5 L1222.8,1003.0 L1223.2,1015.4 L1223.6,1035.4 L1224.1,1060.1 L1224.5,1095.9 L1224.9,1117.7 L1225.4,1120.2 L1225.8,1097.5 L1226.2,1104.4 L1226.6,1120.4 L1227.1,1152.9 L1227.5,1189.2 L1227.9,1211.8 L1228.4,1213.8 L1228.8,1207.4 L1229.2,1189.4 L1229.6,1162.1 L1230.1,1126.7 L1230.5,1086.0" fill="none" stroke="#548235" stroke-width="2.1" stroke-linejoin="round" stroke-linecap="round"/>
<path d="M221.3,993.0 L221.7,962.6 L222.2,983.3 L222.6,973.5 L223.0,1033.3 L223.4,1082.1 L223.9,1092.2 L224.3,1143.6 L224.7,1059.0 L225.2,1037.8 L225.6,1017.1 L226.0,1027.5 L226.4,1036.6 L226.9,1067.8 L227.3,1079.3 L227.7,1072.0 L228.2,1138.5 L228.6,1114.8 L229.0,1107.8 L229.5,1003.1 L229.9,977.0 L230.3,964.9 L230.7,984.6 L231.2,962.3 L231.6,972.0 L232.0,986.5 L232.5,1014.8 L232.9,1022.2 L233.3,1057.6 L233.7,1035.9 L234.2,1049.3 L234.6,1052.9 L235.0,1035.6 L235.5,1034.7 L235.9,1013.5 L236.3,1038.4 L236.7,1042.4 L237.2,1087.3 L237.6,1131.6 L238.0,1086.2 L238.5,1129.6 L238.9,1068.8 L239.3,1042.4 L239.8,1055.4 L240.2,1009.0 L240.6,968.0 L241.0,956.4 L241.5,964.3 L241.9,937.7 L242.3,981.2 L242.8,995.7 L243.2,1033.2 L243.6,1033.5 L244.0,1066.4 L244.5,1044.2 L244.9,1023.6 L245.3,1024.1 L245.8,1027.1 L246.2,1041.0 L246.6,1025.0 L247.0,1036.9 L247.5,1073.9 L247.9,1105.0 L248.3,1083.8 L248.8,1032.9 L249.2,1080.2 L249.6,1034.1 L250.0,1002.2 L250.5,1029.4 L250.9,920.8 L251.3,926.2 L251.8,898.8 L252.2,931.0 L252.6,983.6 L253.1,1002.4 L253.5,1018.6 L253.9,1043.4 L254.3,1038.1 L254.8,1062.0 L255.2,1029.5 L255.6,1001.6 L256.1,955.1 L256.5,998.0 L256.9,1018.5 L257.3,1017.3 L257.8,1035.7 L258.2,1039.0 L258.6,1061.7 L259.1,1088.6 L259.5,1059.8 L259.9,1032.2 L260.3,998.8 L260.8,954.9 L261.2,947.4 L261.6,969.7 L262.1,921.3 L262.5,987.0 L262.9,953.9 L263.4,993.9 L263.8,1056.4 L264.2,1020.0 L264.6,1022.3 L265.1,1036.2 L265.5,993.0 L265.9,973.2 L266.4,1040.5 L266.8,991.4 L267.2,1017.6 L267.6,1033.4 L268.1,1044.3 L268.5,1120.5 L268.9,1126.3 L269.4,1129.9 L269.8,1116.6 L270.2,1054.1 L270.6,1049.2 L271.1,1003.3 L271.5,920.5 L271.9,920.2 L272.4,914.5 L272.8,986.6 L273.2,984.3 L273.6,1010.9 L274.1,1022.3 L274.5,1065.3 L274.9,1029.2 L275.4,1059.7 L275.8,1044.7 L276.2,1030.3 L276.7,1008.3 L277.1,1033.2 L277.5,1005.8 L277.9,1037.0 L278.4,1081.3 L278.8,1121.8 L279.2,1123.4 L279.7,1101.6 L280.1,1079.5 L280.5,1057.4 L280.9,1005.5 L281.4,984.3 L281.8,925.4 L282.2,930.9 L282.7,980.4 L283.1,921.1 L283.5,958.1 L283.9,1024.1 L284.4,1028.0 L284.8,1085.6 L285.2,1012.1 L285.7,1054.3 L286.1,1128.1 L286.5,1028.7 L286.9,1043.3 L287.4,983.4 L287.8,1069.0 L288.2,1146.4 L288.7,1079.4 L289.1,1132.8 L289.5,1162.5 L290.0,1187.3 L290.4,1108.4 L290.8,1029.6 L291.2,1104.1 L291.7,970.8 L292.1,980.7 L292.5,932.8 L293.0,935.5 L293.4,946.0 L293.8,942.2 L294.2,983.3 L294.7,1036.9 L295.1,1032.4 L295.5,1093.1 L296.0,1153.2 L296.4,1020.8 L296.8,1067.8 L297.2,1059.9 L297.7,1030.0 L298.1,1085.0 L298.5,1093.0 L299.0,1087.5 L299.4,1117.2 L299.8,1117.7 L300.3,1087.2 L300.7,1132.5 L301.1,1067.0 L301.5,1032.2 L302.0,1033.7 L302.4,983.6 L302.8,986.8 L303.3,962.4 L303.7,966.6 L304.1,980.6 L304.5,1025.9 L305.0,1024.0 L305.4,1062.9 L305.8,1044.8 L306.3,1073.7 L306.7,1088.3 L307.1,1033.1 L307.5,1029.3 L308.0,1044.7 L308.4,1016.9 L308.8,1043.7 L309.3,1059.1 L309.7,1067.9 L310.1,1111.6 L310.5,1111.8 L311.0,1097.2 L311.4,1033.9 L311.8,1016.0 L312.3,1019.6 L312.7,960.7 L313.1,963.8 L313.6,955.0 L314.0,952.0 L314.4,960.6 L314.8,951.9 L315.3,1012.1 L315.7,1066.2 L316.1,1027.0 L316.6,1079.2 L317.0,1073.0 L317.4,1128.2 L317.8,1020.9 L318.3,1016.7 L318.7,1014.9 L319.1,1016.3 L319.6,1014.3 L320.0,1068.2 L320.4,1059.2 L320.8,1117.7 L321.3,1101.5 L321.7,1039.9 L322.1,1027.1 L322.6,1031.1 L323.0,968.4 L323.4,953.0 L323.9,953.8 L324.3,940.8 L324.7,963.0 L325.1,1013.8 L325.6,1027.1 L326.0,998.7 L326.4,1088.8 L326.9,1051.9 L327.3,1039.9 L327.7,1029.4 L328.1,1059.1 L328.6,1028.5 L329.0,1019.3 L329.4,1014.0 L329.9,1052.7 L330.3,1085.8 L330.7,1047.8 L331.1,1053.1 L331.6,1066.2 L332.0,1071.0 L332.4,1020.0 L332.9,1001.7 L333.3,956.0 L333.7,976.9 L334.1,946.7 L334.6,950.3 L335.0,981.6 L335.4,979.2 L335.9,1006.9 L336.3,1032.4 L336.7,1032.4 L337.2,1083.6 L337.6,1045.4 L338.0,1024.8 L338.4,1017.5 L338.9,998.9 L339.3,1038.1 L339.7,1053.4 L340.2,1029.4 L340.6,1042.1 L341.0,1021.1 L341.4,1060.5 L341.9,1090.5 L342.3,1029.2 L342.7,1035.9 L343.2,1017.1 L343.6,896.1 L344.0,902.6 L344.4,890.0 L344.9,891.0 L345.3,883.9 L345.7,949.4 L346.2,961.6 L346.6,1043.9 L347.0,1071.0 L347.5,1011.3 L347.9,1006.6 L348.3,1013.8 L348.7,1010.0 L349.2,1006.3 L349.6,1022.9 L350.0,983.7 L350.5,1020.7 L350.9,1043.0 L351.3,1062.0 L351.7,1048.8 L352.2,1051.8 L352.6,1022.3 L353.0,1032.9 L353.5,947.8 L353.9,868.4 L354.3,894.7 L354.7,879.4 L355.2,869.5 L355.6,882.0 L356.0,937.3 L356.5,1030.9 L356.9,1008.1 L357.3,1057.7 L357.7,1050.0 L358.2,1011.8 L358.6,1018.1 L359.0,986.6 L359.5,900.8 L359.9,989.5 L360.3,1003.9 L360.8,1057.2 L361.2,1072.8 L361.6,1087.0 L362.0,1082.6 L362.5,1082.8 L362.9,1046.1 L363.3,1005.2 L363.8,989.5 L364.2,963.6 L364.6,936.0 L365.0,891.8 L365.5,903.8 L365.9,905.1 L366.3,944.2 L366.8,1008.3 L367.2,1006.3 L367.6,1062.8 L368.0,979.2 L368.5,997.1 L368.9,1012.9 L369.3,1024.9 L369.8,994.8 L370.2,1049.9 L370.6,1041.2 L371.0,1027.0 L371.5,1064.4 L371.9,1088.4 L372.3,1053.0 L372.8,1087.5 L373.2,1023.2 L373.6,1008.3 L374.1,976.9 L374.5,880.0 L374.9,905.1 L375.3,859.4 L375.8,908.5 L376.2,863.3 L376.6,1007.0 L377.1,992.3 L377.5,1053.1 L377.9,1066.2 L378.3,1023.6 L378.8,1005.7 L379.2,1037.2 L379.6,965.9 L380.1,1019.9 L380.5,1010.5 L380.9,1022.4 L381.3,1040.8 L381.8,1112.8 L382.2,1046.9 L382.6,1073.6 L383.1,1080.6 L383.5,1060.2 L383.9,1035.3 L384.4,993.1 L384.8,892.7 L385.2,897.1 L385.6,925.9 L386.1,927.8 L386.5,898.2 L386.9,995.0 L387.4,1023.1 L387.8,998.5 L388.2,1022.0 L388.6,1028.6 L389.1,1034.7 L389.5,1048.3 L389.9,1030.3 L390.4,1015.9 L390.8,1021.3 L391.2,1027.4 L391.6,1048.2 L392.1,1083.5 L392.5,1097.4 L392.9,1117.6 L393.4,1122.6 L393.8,1050.5 L394.2,1019.9 L394.6,980.7 L395.1,935.7 L395.5,946.0 L395.9,943.0 L396.4,932.2 L396.8,957.1 L397.2,1005.9 L397.7,1004.7 L398.1,1036.2 L398.5,1069.7 L398.9,1033.5 L399.4,983.2 L399.8,1029.3 L400.2,981.1 L400.7,976.2 L401.1,985.1 L401.5,1064.3 L401.9,1012.2 L402.4,1091.3 L402.8,1118.2 L403.2,1115.9 L403.7,1062.2 L404.1,1040.8 L404.5,1009.6 L404.9,909.7 L405.4,937.3 L405.8,921.1 L406.2,876.5 L406.7,884.3 L407.1,892.0 L407.5,1012.4 L408.0,982.4 L408.4,1020.4 L408.8,999.1 L409.2,1084.3 L409.7,1025.7 L410.1,1026.3 L410.5,1055.4 L411.0,1027.8 L411.4,991.1 L411.8,1052.5 L412.2,1092.1 L412.7,1065.1 L413.1,1078.9 L413.5,1079.0 L414.0,1124.0 L414.4,1054.9 L414.8,986.9 L415.2,991.1 L415.7,954.8 L416.1,902.5 L416.5,903.9 L417.0,953.8 L417.4,1015.5 L417.8,1017.0 L418.2,1038.6 L418.7,1040.9 L419.1,1033.2 L419.5,1061.0 L420.0,1070.2 L420.4,1024.6 L420.8,1046.6 L421.3,1015.1 L421.7,1037.4 L422.1,973.7 L422.5,1034.8 L423.0,1132.9 L423.4,1150.2 L423.8,1142.8 L424.3,1154.2 L424.7,1092.5 L425.1,1038.0 L425.5,963.9 L426.0,961.8 L426.4,946.6 L426.8,952.4 L427.3,956.7 L427.7,950.9 L428.1,984.1 L428.5,982.2 L429.0,1051.0 L429.4,1016.4 L429.8,1048.3 L430.3,1048.9 L430.7,1110.0 L431.1,1060.5 L431.6,997.0 L432.0,984.3 L432.4,1016.4 L432.8,1021.1 L433.3,1092.4 L433.7,1115.3 L434.1,1129.7 L434.6,1056.1 L435.0,1046.0 L435.4,1021.2 L435.8,991.1 L436.3,931.1 L436.7,916.8 L437.1,925.9 L437.6,907.3 L438.0,922.1 L438.4,962.1 L438.8,957.7 L439.3,996.2 L439.7,1038.5 L440.1,1028.4 L440.6,1070.3 L441.0,1042.5 L441.4,1073.8 L441.8,979.8 L442.3,1048.2 L442.7,997.6 L443.1,1044.7 L443.6,1070.5 L444.0,1066.5 L444.4,1061.6 L444.9,1045.3 L445.3,1000.3 L445.7,1002.3 L446.1,954.6 L446.6,954.2 L447.0,893.2 L447.4,892.3 L447.9,900.2 L448.3,909.8 L448.7,946.0 L449.1,977.1 L449.6,998.0 L450.0,1036.1 L450.4,1051.4 L450.9,1011.9 L451.3,1061.7 L451.7,1019.7 L452.1,963.5 L452.6,1058.3 L453.0,1014.7 L453.4,998.8 L453.9,1073.2 L454.3,991.6 L454.7,1084.7 L455.1,1015.2 L455.6,997.4 L456.0,987.9 L456.4,979.1 L456.9,918.3 L457.3,921.3 L457.7,878.4 L458.2,911.7 L458.6,907.4 L459.0,904.1 L459.4,995.4 L459.9,1004.2 L460.3,1011.1 L460.7,1055.3 L461.2,997.2 L461.6,1004.3 L462.0,1032.0 L462.4,994.1 L462.9,1004.9 L463.3,1008.1 L463.7,1005.9 L464.2,1038.1 L464.6,1016.7 L465.0,1058.1 L465.4,1018.7 L465.9,1023.3 L466.3,987.7 L466.7,985.1 L467.2,943.4 L467.6,928.0 L468.0,878.1 L468.5,877.6 L468.9,877.6 L469.3,897.6 L469.7,972.8 L470.2,1001.9 L470.6,1004.9 L471.0,1015.6 L471.5,994.3 L471.9,994.9 L472.3,1009.7 L472.7,1002.7 L473.2,962.7 L473.6,995.6 L474.0,1009.0 L474.5,1001.8 L474.9,1031.0 L475.3,1033.5 L475.7,1032.1 L476.2,1038.3 L476.6,986.6 L477.0,996.3 L477.5,936.3 L477.9,902.5 L478.3,862.7 L478.7,875.1 L479.2,894.7 L479.6,994.2 L480.0,987.6 L480.5,1018.3 L480.9,1006.1 L481.3,1008.1 L481.8,1010.3 L482.2,967.3 L482.6,995.4 L483.0,985.8 L483.5,996.7 L483.9,1003.4 L484.3,999.4 L484.8,1006.4 L485.2,1043.9 L485.6,1020.9 L486.0,1026.6 L486.5,1010.5 L486.9,1002.0 L487.3,1004.4 L487.8,976.1 L488.2,885.5 L488.6,892.7 L489.0,932.0 L489.5,902.0 L489.9,953.4 L490.3,1010.9 L490.8,1038.6 L491.2,1042.8 L491.6,1019.1 L492.1,1024.4 L492.5,1022.8 L492.9,1010.0 L493.3,999.6 L493.8,1040.9 L494.2,1018.8 L494.6,1038.0 L495.1,1061.6 L495.5,1065.2 L495.9,1067.7 L496.3,1072.2 L496.8,1079.0 L497.2,1049.5 L497.6,960.8 L498.1,1019.9 L498.5,1010.6 L498.9,927.0 L499.3,921.6 L499.8,928.3 L500.2,1006.6 L500.6,954.9 L501.1,1042.7 L501.5,1066.8 L501.9,1064.0 L502.3,1054.5 L502.8,1035.1 L503.2,1029.0 L503.6,1041.4 L504.1,999.8 L504.5,1042.2 L504.9,1023.4 L505.4,1098.8 L505.8,1105.2 L506.2,1068.1 L506.6,1109.4 L507.1,1103.7 L507.5,1083.8 L507.9,1076.3 L508.4,1055.5 L508.8,940.2 L509.2,1086.4 L509.6,941.6 L510.1,942.3 L510.5,967.8 L510.9,1008.2 L511.4,994.1 L511.8,954.6 L512.2,1127.6 L512.6,1080.5 L513.1,1089.8 L513.5,1054.5 L513.9,1066.0 L514.4,1026.3 L514.8,1084.2 L515.2,1076.1 L515.7,1122.5 L516.1,1144.9 L516.5,1139.2 L516.9,1150.1 L517.4,1162.1 L517.8,1058.4 L518.2,1113.9 L518.7,1144.0 L519.1,955.6 L519.5,1049.0 L519.9,945.4 L520.4,958.1 L520.8,955.6 L521.2,984.2 L521.7,1086.7 L522.1,1082.0 L522.5,960.6 L522.9,1167.6 L523.4,1108.7 L523.8,1093.1 L524.2,1142.0 L524.7,1148.4 L525.1,951.8 L525.5,1110.6 L525.9,965.0 L526.4,1103.2 L526.8,1135.5 L527.2,1132.4 L527.7,1131.3 L528.1,1106.1 L528.5,1118.8 L529.0,1107.8 L529.4,1071.0 L529.8,958.9 L530.2,959.5 L530.7,1049.4 L531.1,1020.1 L531.5,972.8 L532.0,1078.5 L532.4,1096.9 L532.8,1139.2 L533.2,1123.8 L533.7,1103.8 L534.1,1068.0 L534.5,1111.1 L535.0,959.9 L535.4,1102.3 L535.8,952.0 L536.2,1032.1 L536.7,1096.6 L537.1,1154.3 L537.5,1178.2 L538.0,1168.0 L538.4,1155.2 L538.8,1055.7 L539.2,1177.2 L539.7,959.2 L540.1,1086.7 L540.5,951.3 L541.0,1136.7 L541.4,946.8 L541.8,980.7 L542.3,939.7 L542.7,1020.6 L543.1,1130.3 L543.5,1035.1 L544.0,1087.0 L544.4,1102.2 L544.8,1063.4 L545.3,1035.3 L545.7,1106.7 L546.1,1149.2 L546.5,1149.9 L547.0,984.6 L547.4,1085.5 L547.8,1125.6 L548.3,1156.2 L548.7,1148.0 L549.1,1147.5 L549.5,1150.6 L550.0,1145.2 L550.4,904.4 L550.8,1014.7 L551.3,1040.3 L551.7,1070.3 L552.1,985.5 L552.6,899.5 L553.0,904.4 L553.4,1049.5 L553.8,1077.9 L554.3,1111.4 L554.7,1141.5 L555.1,1038.4 L555.6,1100.9 L556.0,911.5 L556.4,1119.1 L556.8,1101.8 L557.3,1019.8 L557.7,1110.3 L558.1,1146.5 L558.6,1146.7 L559.0,1129.8 L559.4,1128.6 L559.8,1142.7 L560.3,1101.8 L560.7,1067.3 L561.1,1068.7 L561.6,1032.1 L562.0,1001.2 L562.4,931.0 L562.8,931.1 L563.3,947.6 L563.7,948.5 L564.1,1071.5 L564.6,1144.0 L565.0,1147.3 L565.4,1089.8 L565.9,1105.6 L566.3,1016.2 L566.7,1108.4 L567.1,1045.1 L567.6,984.5 L568.0,1017.9 L568.4,1124.6 L568.9,1119.3 L569.3,1120.6 L569.7,1165.5 L570.1,1125.5 L570.6,1103.4 L571.0,1150.4 L571.4,960.4 L571.9,1098.2 L572.3,1045.2 L572.7,993.5 L573.1,1005.4 L573.6,933.8 L574.0,951.8 L574.4,933.0 L574.9,985.5 L575.3,1047.5 L575.7,1111.5 L576.2,1157.9 L576.6,1118.4 L577.0,1145.5 L577.4,1049.5 L577.9,1092.0 L578.3,939.0 L578.7,1029.9 L579.2,1034.1 L579.6,1087.7 L580.0,1099.2 L580.4,1092.2 L580.9,1086.4 L581.3,1138.5 L581.7,1084.1 L582.2,902.5 L582.6,1055.3 L583.0,1009.7 L583.4,998.3 L583.9,1038.8 L584.3,895.4 L584.7,914.3 L585.2,932.6 L585.6,893.9 L586.0,893.4 L586.4,1105.2 L586.9,1041.8 L587.3,1060.5 L587.7,1061.4 L588.2,1052.3 L588.6,1056.1 L589.0,938.8 L589.5,1018.6 L589.9,1046.3 L590.3,1016.5 L590.7,1049.0 L591.2,1068.7 L591.6,1075.0 L592.0,1030.3 L592.5,1048.6 L592.9,1042.9 L593.3,1037.9 L593.7,965.7 L594.2,963.1 L594.6,890.5 L595.0,889.1 L595.5,1018.6 L595.9,957.6 L596.3,976.4 L596.7,1028.3 L597.2,1060.4 L597.6,1025.8 L598.0,1057.6 L598.5,1059.2 L598.9,1045.6 L599.3,1021.8 L599.8,994.0 L600.2,993.6 L600.6,1021.9 L601.0,1054.1 L601.5,1056.9 L601.9,1066.8 L602.3,1056.3 L602.8,1068.6 L603.2,1022.8 L603.6,987.3 L604.0,964.3 L604.5,895.8 L604.9,914.2 L605.3,923.2 L605.8,907.2 L606.2,888.2 L606.6,925.4 L607.0,1005.1 L607.5,995.2 L607.9,1029.8 L608.3,1005.2 L608.8,1016.0 L609.2,1023.1 L609.6,997.0 L610.0,1015.0 L610.5,1017.7 L610.9,1032.7 L611.3,1016.9 L611.8,1035.1 L612.2,1046.9 L612.6,1057.2 L613.1,1019.5 L613.5,1034.7 L613.9,1017.6 L614.3,927.9 L614.8,883.7 L615.2,884.2 L615.6,933.0 L616.1,900.9 L616.5,890.2 L616.9,957.4 L617.3,949.1 L617.8,1035.6 L618.2,1014.3 L618.6,1036.6 L619.1,1005.4 L619.5,1016.1 L619.9,986.5 L620.3,1014.1 L620.8,1027.3 L621.2,1031.1 L621.6,1036.0 L622.1,1057.7 L622.5,1029.9 L622.9,1029.6 L623.3,1039.1 L623.8,1043.4 L624.2,1009.0 L624.6,983.5 L625.1,865.5 L625.5,870.5 L625.9,865.1 L626.4,892.6 L626.8,992.4 L627.2,993.3 L627.6,1020.1 L628.1,1013.3 L628.5,1023.6 L628.9,1037.6 L629.4,1025.9 L629.8,979.1 L630.2,1020.9 L630.6,1018.9 L631.1,1014.0 L631.5,1029.5 L631.9,1039.1 L632.4,1037.7 L632.8,1027.4 L633.2,1071.5 L633.6,1046.9 L634.1,1026.6 L634.5,1007.7 L634.9,966.2 L635.4,927.2 L635.8,886.7 L636.2,903.7 L636.7,910.6 L637.1,943.5 L637.5,980.7 L637.9,1013.6 L638.4,1009.4 L638.8,1030.9 L639.2,1026.1 L639.7,1023.1 L640.1,1032.0 L640.5,1022.7 L640.9,1027.3 L641.4,1013.6 L641.8,1046.0 L642.2,1076.6 L642.7,1064.7 L643.1,1068.5 L643.5,1098.3 L643.9,1023.4 L644.4,1031.1 L644.8,1006.5 L645.2,928.7 L645.7,921.0 L646.1,921.5 L646.5,901.0 L646.9,957.7 L647.4,960.5 L647.8,968.9 L648.2,1035.9 L648.7,1031.0 L649.1,1026.6 L649.5,979.4 L650.0,1041.4 L650.4,1015.9 L650.8,995.4 L651.2,1011.6 L651.7,1045.9 L652.1,1028.8 L652.5,1057.3 L653.0,1069.0 L653.4,1061.6 L653.8,1059.9 L654.2,1054.9 L654.7,1027.1 L655.1,1023.9 L655.5,960.8 L656.0,909.5 L656.4,910.2 L656.8,905.0 L657.2,950.5 L657.7,909.8 L658.1,927.0 L658.5,1026.7 L659.0,1024.8 L659.4,1045.0 L659.8,1010.4 L660.3,1017.6 L660.7,1016.5 L661.1,1017.2 L661.5,1013.3 L662.0,1048.7 L662.4,1028.2 L662.8,1092.3 L663.3,1078.0 L663.7,1101.8 L664.1,1066.4 L664.5,1075.0 L665.0,1017.8 L665.4,1024.0 L665.8,942.0 L666.3,929.9 L666.7,908.5 L667.1,910.3 L667.5,907.2 L668.0,1017.5 L668.4,988.6 L668.8,1056.7 L669.3,1013.0 L669.7,1099.4 L670.1,1066.2 L670.5,1073.3 L671.0,978.7 L671.4,1042.9 L671.8,1015.9 L672.3,1038.0 L672.7,1094.8 L673.1,1078.9 L673.6,1073.7 L674.0,1113.1 L674.4,1075.2 L674.8,1093.4 L675.3,1045.6 L675.7,1020.1 L676.1,950.7 L676.6,891.7 L677.0,899.0 L677.4,901.6 L677.8,938.5 L678.3,979.8 L678.7,945.9 L679.1,1052.5 L679.6,1073.1 L680.0,1058.3 L680.4,1067.2 L680.8,991.8 L681.3,1108.7 L681.7,1013.0 L682.1,1003.2 L682.6,1063.5 L683.0,1072.5 L683.4,1065.5 L683.9,1051.1 L684.3,1157.3 L684.7,1166.4 L685.1,1067.1 L685.6,1016.9 L686.0,1023.1 L686.4,1031.6 L686.9,907.7 L687.3,917.8 L687.7,904.2 L688.1,919.2 L688.6,962.0 L689.0,1000.9 L689.4,980.1 L689.9,1007.0 L690.3,1139.9 L690.7,1093.2 L691.1,1002.9 L691.6,1043.3 L692.0,1062.2 L692.4,1018.6 L692.9,1025.2 L693.3,1041.4 L693.7,1082.0 L694.1,1105.9 L694.6,1133.4 L695.0,1105.5 L695.4,1131.2 L695.9,1071.4 L696.3,1022.5 L696.7,934.7 L697.2,917.8 L697.6,906.6 L698.0,893.1 L698.4,898.9 L698.9,901.2 L699.3,956.4 L699.7,955.5 L700.2,1003.6 L700.6,1057.2 L701.0,1075.6 L701.4,1026.1 L701.9,1023.1 L702.3,1026.1 L702.7,1060.1 L703.2,1075.0 L703.6,1021.2 L704.0,1028.9 L704.4,1052.1 L704.9,1136.7 L705.3,1071.1 L705.7,1115.1 L706.2,1050.3 L706.6,1014.9 L707.0,1007.1 L707.4,951.5 L707.9,967.9 L708.3,906.0 L708.7,950.1 L709.2,896.6 L709.6,956.4 L710.0,973.3 L710.5,1019.4 L710.9,1066.5 L711.3,1045.7 L711.7,1061.8 L712.2,1022.9 L712.6,1017.9 L713.0,1039.1 L713.5,1015.8 L713.9,1020.9 L714.3,1044.6 L714.7,1033.6 L715.2,1029.7 L715.6,1093.6 L716.0,1085.8 L716.5,1105.1 L716.9,1025.9 L717.3,1002.6 L717.7,1008.6 L718.2,902.3 L718.6,890.5 L719.0,913.1 L719.5,926.5 L719.9,985.4 L720.3,973.5 L720.8,1053.9 L721.2,1045.3 L721.6,1008.6 L722.0,1042.5 L722.5,1024.1 L722.9,1025.2 L723.3,1037.3 L723.8,1013.6 L724.2,1011.7 L724.6,1049.9 L725.0,1036.7 L725.5,1032.0 L725.9,1043.1 L726.3,1090.1 L726.8,1069.4 L727.2,1055.2 L727.6,956.4 L728.0,919.9 L728.5,891.9 L728.9,910.7 L729.3,924.6 L729.8,905.6 L730.2,947.0 L730.6,1011.1 L731.0,1014.4 L731.5,1020.7 L731.9,1036.7 L732.3,1063.2 L732.8,1078.6 L733.2,1024.4 L733.6,1010.3 L734.1,1014.5 L734.5,1022.2 L734.9,1039.9 L735.3,1027.1 L735.8,1060.1 L736.2,1065.2 L736.6,1086.6 L737.1,1062.3 L737.5,1016.5 L737.9,1010.5 L738.3,985.4 L738.8,924.6 L739.2,902.0 L739.6,908.0 L740.1,901.7 L740.5,961.5 L740.9,1000.7 L741.3,1051.3 L741.8,1052.5 L742.2,1011.5 L742.6,1034.4 L743.1,1013.8 L743.5,1005.1 L743.9,1009.8 L744.4,1012.5 L744.8,1012.9 L745.2,1015.6 L745.6,1042.9 L746.1,1062.9 L746.5,1084.1 L746.9,1106.9 L747.4,1062.8 L747.8,1043.4 L748.2,957.2 L748.6,999.6 L749.1,915.3 L749.5,899.4 L749.9,913.4 L750.4,959.4 L750.8,962.3 L751.2,963.1 L751.6,1021.9 L752.1,1021.3 L752.5,1042.4 L752.9,1050.5 L753.4,953.8 L753.8,1011.9 L754.2,1018.8 L754.6,1019.1 L755.1,1010.0 L755.5,1027.5 L755.9,1041.3 L756.4,1083.1 L756.8,1123.7 L757.2,1067.5 L757.7,1064.9 L758.1,1022.5 L758.5,1013.3 L758.9,965.5 L759.4,944.3 L759.8,927.2 L760.2,961.9 L760.7,947.1 L761.1,975.3 L761.5,1026.6 L761.9,1043.9 L762.4,1074.0 L762.8,1020.3 L763.2,1129.4 L763.7,1034.8 L764.1,1064.7 L764.5,1018.0 L764.9,999.9 L765.4,1049.2 L765.8,1052.0 L766.2,1125.2 L766.7,1041.0 L767.1,1084.3 L767.5,1058.2 L768.0,1114.3 L768.4,1048.1 L768.8,971.6 L769.2,969.9 L769.7,954.9 L770.1,949.7 L770.5,976.5 L771.0,957.2 L771.4,992.3 L771.8,1003.7 L772.2,1054.7 L772.7,1030.5 L773.1,1076.5 L773.5,1011.6 L774.0,1004.0 L774.4,1001.8 L774.8,1005.8 L775.2,1008.3 L775.7,1147.0 L776.1,1040.1 L776.5,1120.5 L777.0,1128.8 L777.4,1145.3 L777.8,1153.6 L778.2,1083.0 L778.7,1007.3 L779.1,975.7 L779.5,986.0 L780.0,978.0 L780.4,962.4 L780.8,982.3 L781.3,963.3 L781.7,999.9 L782.1,1035.0 L782.5,1012.5 L783.0,1009.5 L783.4,1101.7 L783.8,1006.3 L784.3,1027.3 L784.7,996.6 L785.1,1019.6 L785.5,1072.4 L786.0,1026.4 L786.4,1042.4 L786.8,1032.4 L787.3,1063.1 L787.7,1102.5 L788.1,1114.7 L788.5,1078.6 L789.0,1020.4 L789.4,1008.0 L789.8,982.5 L790.3,1003.6 L790.7,969.0 L791.1,973.8 L791.5,966.9 L792.0,994.7 L792.4,1025.4 L792.8,1020.0 L793.3,1091.5 L793.7,1065.9 L794.1,1099.0 L794.6,1005.8 L795.0,1011.5 L795.4,1044.3 L795.8,1023.5 L796.3,1018.3 L796.7,1057.1 L797.1,1091.3 L797.6,1141.5 L798.0,1137.7 L798.4,1097.3 L798.8,1031.6 L799.3,1038.1 L799.7,1016.0 L800.1,983.0 L800.6,991.4 L801.0,976.8 L801.4,979.9 L801.8,980.1 L802.3,983.3 L802.7,1011.7 L803.1,1019.5 L803.6,1074.7 L804.0,1066.6 L804.4,1021.6 L804.9,1004.8 L805.3,1000.9 L805.7,983.5 L806.1,1019.6 L806.6,1034.4 L807.0,1037.0 L807.4,1092.4 L807.9,1114.7 L808.3,1131.9 L808.7,1065.5 L809.1,1096.8 L809.6,1017.2 L810.0,1021.9 L810.4,948.4 L810.9,970.7 L811.3,942.4 L811.7,986.1 L812.1,980.9 L812.6,971.6 L813.0,1032.2 L813.4,1034.1 L813.9,1064.8 L814.3,1127.1 L814.7,1036.3 L815.1,1023.5 L815.6,1051.1 L816.0,1013.9 L816.4,1044.0 L816.9,1068.3 L817.3,1063.2 L817.7,1116.7 L818.2,1040.6 L818.6,1149.3 L819.0,1083.1 L819.4,1044.5 L819.9,1096.6 L820.3,1038.1 L820.7,967.9 L821.2,968.0 L821.6,953.3 L822.0,950.3 L822.4,978.3 L822.9,1014.7 L823.3,1092.2 L823.7,1031.5 L824.2,1091.0 L824.6,1055.1 L825.0,1051.6 L825.4,1093.5 L825.9,1001.3 L826.3,1008.4 L826.7,1014.1 L827.2,1078.7 L827.6,1078.1 L828.0,1118.2 L828.5,1143.6 L828.9,1168.1 L829.3,1112.3 L829.7,1087.8 L830.2,1036.5 L830.6,1023.5 L831.0,950.5 L831.5,949.2 L831.9,1003.7 L832.3,952.4 L832.7,954.5 L833.2,956.5 L833.6,1019.0 L834.0,1045.1 L834.5,1097.1 L834.9,1056.7 L835.3,1102.0 L835.7,1091.3 L836.2,1075.2 L836.6,1021.9 L837.0,1047.5 L837.5,1112.4 L837.9,1039.4 L838.3,1135.3 L838.7,1118.5 L839.2,1138.6 L839.6,1093.4 L840.0,1070.7 L840.5,1090.8 L840.9,1024.6 L841.3,1015.4 L841.8,915.4 L842.2,917.8 L842.6,912.9 L843.0,936.5 L843.5,1023.0 L843.9,952.9 L844.3,1031.5 L844.8,1063.3 L845.2,1088.3 L845.6,1064.5 L846.0,1055.2 L846.5,1124.8 L846.9,1012.0 L847.3,1050.2 L847.8,1054.2 L848.2,1007.0 L848.6,1050.3 L849.0,1136.5 L849.5,1197.6 L849.9,1137.6 L850.3,1095.5 L850.8,1076.3 L851.2,1065.5 L851.6,1005.9 L852.0,976.6 L852.5,904.8 L852.9,897.9 L853.3,900.1 L853.8,976.6 L854.2,989.0 L854.6,1020.3 L855.1,1087.5 L855.5,1097.9 L855.9,1026.0 L856.3,1074.9 L856.8,1034.4 L857.2,1059.8 L857.6,1035.9 L858.1,1104.6 L858.5,1055.6 L858.9,1039.6 L859.3,1035.9 L859.8,1086.3 L860.2,1112.0 L860.6,1119.1 L861.1,1102.9 L861.5,1035.9 L861.9,978.8 L862.3,980.5 L862.8,928.5 L863.2,952.2 L863.6,989.6 L864.1,996.0 L864.5,1041.9 L864.9,1078.2 L865.4,1034.2 L865.8,1099.9 L866.2,1087.9 L866.6,1043.5 L867.1,1031.0 L867.5,1064.2 L867.9,1010.9 L868.4,1034.5 L868.8,1056.2 L869.2,1066.4 L869.6,1172.9 L870.1,1170.7 L870.5,1145.9 L870.9,1094.8 L871.4,1092.5 L871.8,1037.9 L872.2,972.1 L872.6,936.3 L873.1,933.1 L873.5,931.8 L873.9,951.0 L874.4,978.8 L874.8,998.7 L875.2,1044.1 L875.6,1084.6 L876.1,1038.0 L876.5,1097.9 L876.9,1114.6 L877.4,1046.2 L877.8,1002.2 L878.2,1039.5 L878.7,1016.8 L879.1,1073.5 L879.5,1103.2 L879.9,1141.6 L880.4,1140.6 L880.8,1068.3 L881.2,1160.2 L881.7,1032.0 L882.1,1059.8 L882.5,1001.1 L882.9,935.3 L883.4,929.3 L883.8,933.2 L884.2,993.8 L884.7,964.8 L885.1,1038.5 L885.5,978.1 L885.9,1076.5 L886.4,1079.6 L886.8,1129.5 L887.2,1090.0 L887.7,1100.4 L888.1,1026.7 L888.5,1048.1 L889.0,1038.2 L889.4,1090.5 L889.8,1115.0 L890.2,1078.1 L890.7,1171.7 L891.1,1183.9 L891.5,1101.3 L892.0,1115.1 L892.4,1042.9 L892.8,983.3 L893.2,995.5 L893.7,961.3 L894.1,976.2 L894.5,963.3 L895.0,973.9 L895.4,1036.8 L895.8,1053.8 L896.2,1105.1 L896.7,1080.0 L897.1,1047.0 L897.5,1124.0 L898.0,1037.2 L898.4,1085.4 L898.8,1068.6 L899.2,1119.4 L899.7,1031.5 L900.1,1111.2 L900.5,1136.2 L901.0,1184.5 L901.4,1111.2 L901.8,1194.4 L902.3,1070.9 L902.7,999.9 L903.1,1019.2 L903.5,990.5 L904.0,982.0 L904.4,997.3 L904.8,995.1 L905.3,998.8 L905.7,1033.5 L906.1,1045.3 L906.5,1094.7 L907.0,1077.4 L907.4,1080.4 L907.8,1036.0 L908.3,1039.5 L908.7,1048.6 L909.1,1146.8 L909.5,1044.1 L910.0,1063.6 L910.4,1186.1 L910.8,1227.2 L911.3,1221.8 L911.7,1131.6 L912.1,1189.6 L912.6,1090.7 L913.0,1033.5 L913.4,993.8 L913.8,994.8 L914.3,992.3 L914.7,998.6 L915.1,987.4 L915.6,1003.9 L916.0,1041.1 L916.4,1121.6 L916.8,1123.0 L917.3,1066.6 L917.7,1115.8 L918.1,1042.7 L918.6,1043.8 L919.0,1042.3 L919.4,1040.1 L919.8,1048.9 L920.3,1151.9 L920.7,1173.3 L921.1,1073.8 L921.6,1236.9 L922.0,1213.8 L922.4,1084.3 L922.8,1076.5 L923.3,1046.8 L923.7,1035.0 L924.1,993.8 L924.6,989.5 L925.0,989.7 L925.4,1005.4 L925.9,1008.0 L926.3,1060.7 L926.7,1053.6 L927.1,1112.3 L927.6,1080.3 L928.0,1050.5 L928.4,1041.4 L928.9,1080.4 L929.3,1030.5 L929.7,1061.5 L930.1,1108.3 L930.6,1109.4 L931.0,1206.0 L931.4,1180.9 L931.9,1180.0 L932.3,1188.5 L932.7,1106.9 L933.1,1083.8 L933.6,1039.3 L934.0,1038.8 L934.4,998.4 L934.9,1004.2 L935.3,999.5 L935.7,1006.1 L936.2,1020.1 L936.6,1083.4 L937.0,1125.8 L937.4,1096.6 L937.9,1071.3 L938.3,1067.1 L938.7,1044.9 L939.2,1031.5 L939.6,1041.0 L940.0,1049.8 L940.4,1109.8 L940.9,1146.5 L941.3,1169.1 L941.7,1169.0 L942.2,1188.3 L942.6,1185.9 L943.0,1148.9 L943.4,1055.0 L943.9,1035.1 L944.3,1002.0 L944.7,978.3 L945.2,980.4 L945.6,993.4 L946.0,976.1 L946.4,999.8 L946.9,1038.9 L947.3,1069.4 L947.7,1024.8 L948.2,1130.1 L948.6,1097.2 L949.0,1059.8 L949.5,1099.1 L949.9,1045.1 L950.3,1012.6 L950.7,1039.3 L951.2,1062.8 L951.6,1102.2 L952.0,1164.6 L952.5,1141.9 L952.9,1194.2 L953.3,1169.5 L953.7,1083.1 L954.2,1023.5 L954.6,1002.1 L955.0,970.6 L955.5,1011.4 L955.9,963.1 L956.3,963.0 L956.7,972.2 L957.2,1033.7 L957.6,1078.6 L958.0,1067.6 L958.5,1148.0 L958.9,1065.1 L959.3,1104.7 L959.7,1038.6 L960.2,1023.7 L960.6,1131.2 L961.0,1045.0 L961.5,1110.1 L961.9,1192.2 L962.3,1192.2 L962.8,1198.3 L963.2,1130.9 L963.6,1220.8 L964.0,1054.0 L964.5,1007.0 L964.9,1004.3 L965.3,977.2 L965.8,975.0 L966.2,990.4 L966.6,972.5 L967.0,986.7 L967.5,1006.0 L967.9,993.3 L968.3,1046.1 L968.8,1080.5 L969.2,1043.3 L969.6,1160.6 L970.0,1123.8 L970.5,1065.5 L970.9,1067.3 L971.3,1036.1 L971.8,1080.0 L972.2,1039.3 L972.6,1067.4 L973.1,1130.1 L973.5,1200.1 L973.9,1122.6 L974.3,1067.3 L974.8,1088.2 L975.2,1011.0 L975.6,971.6 L976.1,966.8 L976.5,959.6 L976.9,958.9 L977.3,1002.9 L977.8,1009.3 L978.2,1058.6 L978.6,1047.2 L979.1,1141.6 L979.5,1066.5 L979.9,1078.8 L980.3,1041.0 L980.8,1059.1 L981.2,1102.2 L981.6,1009.4 L982.1,1066.3 L982.5,1039.9 L982.9,1105.1 L983.3,1122.1 L983.8,1077.2 L984.2,1129.3 L984.6,1044.0 L985.1,1106.1 L985.5,989.1 L985.9,980.0 L986.4,950.4 L986.8,943.6 L987.2,942.1 L987.6,936.3 L988.1,1044.0 L988.5,1033.0 L988.9,1098.0 L989.4,1049.7 L989.8,1129.1 L990.2,1077.4 L990.6,1093.1 L991.1,1036.3 L991.5,1020.8 L991.9,1056.5 L992.4,1054.6 L992.8,1154.4 L993.2,1106.7 L993.6,1109.0 L994.1,1191.6 L994.5,1088.1 L994.9,1198.0 L995.4,1119.9 L995.8,1037.9 L996.2,979.5 L996.7,941.9 L997.1,940.1 L997.5,944.8 L997.9,947.3 L998.4,1014.2 L998.8,1073.6 L999.2,1126.1 L999.7,1027.9 L1000.1,1209.5 L1000.5,1104.6 L1000.9,1029.4 L1001.4,1036.5 L1001.8,1071.4 L1002.2,1041.2 L1002.7,1033.3 L1003.1,1039.4 L1003.5,1171.2 L1003.9,1114.7 L1004.4,1147.0 L1004.8,1083.8 L1005.2,1035.9 L1005.7,1044.5 L1006.1,1034.4 L1006.5,971.7 L1006.9,960.9 L1007.4,962.1 L1007.8,969.4 L1008.2,964.5 L1008.7,1031.2 L1009.1,1021.6 L1009.5,1093.9 L1010.0,1092.9 L1010.4,1095.3 L1010.8,1033.6 L1011.2,1102.8 L1011.7,1063.8 L1012.1,1099.0 L1012.5,1032.8 L1013.0,1079.0 L1013.4,1074.6 L1013.8,1181.7 L1014.2,1170.9 L1014.7,1104.4 L1015.1,1134.0 L1015.5,1052.0 L1016.0,1022.9 L1016.4,1009.0 L1016.8,1006.7 L1017.2,950.4 L1017.7,954.2 L1018.1,951.1 L1018.5,1031.5 L1019.0,1053.6 L1019.4,1125.0 L1019.8,1109.8 L1020.2,1051.8 L1020.7,1067.2 L1021.1,1074.7 L1021.5,1049.6 L1022.0,1029.3 L1022.4,1047.2 L1022.8,1038.4 L1023.3,1065.0 L1023.7,1184.0 L1024.1,1153.1 L1024.5,1094.8 L1025.0,1164.8 L1025.4,1119.7 L1025.8,1086.6 L1026.3,1037.4 L1026.7,981.5 L1027.1,987.0 L1027.5,991.2 L1028.0,1030.2 L1028.4,1000.2 L1028.8,1040.0 L1029.3,1072.7 L1029.7,1037.0 L1030.1,1052.2 L1030.5,1163.7 L1031.0,1050.4 L1031.4,1048.4 L1031.8,1071.7 L1032.3,1031.4 L1032.7,1093.9 L1033.1,1096.7 L1033.6,1138.6 L1034.0,1163.4 L1034.4,1109.6 L1034.8,1187.5 L1035.3,1180.5 L1035.7,1146.0 L1036.1,1049.0 L1036.6,1029.3 L1037.0,961.8 L1037.4,975.0 L1037.8,978.8 L1038.3,963.0 L1038.7,971.3 L1039.1,1029.6 L1039.6,1030.5 L1040.0,1018.0 L1040.4,1107.8 L1040.8,1085.8 L1041.3,1038.2 L1041.7,1082.4 L1042.1,1073.3 L1042.6,1077.3 L1043.0,1041.2 L1043.4,1051.5 L1043.8,1113.7 L1044.3,1145.7 L1044.7,1115.8 L1045.1,1138.5 L1045.6,1201.0 L1046.0,1103.8 L1046.4,1046.1 L1046.9,1011.0 L1047.3,1004.1 L1047.7,997.1 L1048.1,992.0 L1048.6,1023.6 L1049.0,1010.6 L1049.4,1038.7 L1049.9,1040.3 L1050.3,1105.1 L1050.7,1098.2 L1051.1,1117.6 L1051.6,1105.8 L1052.0,1043.1 L1052.4,1056.0 L1052.9,1041.7 L1053.3,1087.8 L1053.7,1071.9 L1054.1,1168.6 L1054.6,1159.5 L1055.0,1171.6 L1055.4,1136.5 L1055.9,1126.7 L1056.3,1095.3 L1056.7,1037.5 L1057.2,1023.4 L1057.6,996.8 L1058.0,990.6 L1058.4,995.6 L1058.9,1005.3 L1059.3,1012.2 L1059.7,1042.6 L1060.2,1046.6 L1060.6,1047.6 L1061.0,1056.5 L1061.4,1091.4 L1061.9,1109.2 L1062.3,1055.2 L1062.7,1051.1 L1063.2,1036.8 L1063.6,1069.6 L1064.0,1089.7 L1064.4,1089.9 L1064.9,1168.1 L1065.3,1172.4 L1065.7,1098.4 L1066.2,1081.5 L1066.6,1069.1 L1067.0,1047.6 L1067.4,1043.7 L1067.9,1003.4 L1068.3,1002.5 L1068.7,1001.7 L1069.2,1017.3 L1069.6,1026.0 L1070.0,1045.9 L1070.5,1052.9 L1070.9,1049.4 L1071.3,1078.4 L1071.7,1155.4 L1072.2,1109.5 L1072.6,1115.8 L1073.0,1074.6 L1073.5,1049.8 L1073.9,1056.0 L1074.3,1117.3 L1074.7,1120.1 L1075.2,1196.8 L1075.6,1215.1 L1076.0,1213.1 L1076.5,1189.2 L1076.9,1056.3 L1077.3,1089.5 L1077.7,1018.5 L1078.2,1008.5 L1078.6,1013.3 L1079.0,1012.8 L1079.5,1026.5 L1079.9,1033.1 L1080.3,1040.1 L1080.8,1061.0 L1081.2,1058.9 L1081.6,1060.8 L1082.0,1083.7 L1082.5,1071.4 L1082.9,1068.9 L1083.3,1056.3 L1083.8,1092.9 L1084.2,1060.3 L1084.6,1086.2 L1085.0,1165.6 L1085.5,1078.3 L1085.9,1206.0 L1086.3,1203.5 L1086.8,1140.3 L1087.2,1185.3 L1087.6,1077.6 L1088.0,1059.3 L1088.5,1020.3 L1088.9,982.3 L1089.3,975.2 L1089.8,971.0 L1090.2,987.0 L1090.6,1010.2 L1091.0,1054.3 L1091.5,1109.0 L1091.9,1070.0 L1092.3,1127.0 L1092.8,1117.9 L1093.2,1045.3 L1093.6,1053.2 L1094.1,1062.3 L1094.5,1058.2 L1094.9,1066.5 L1095.3,1184.9 L1095.8,1164.1 L1096.2,1212.1 L1096.6,1177.9 L1097.1,1187.7 L1097.5,1067.5 L1097.9,1057.9 L1098.3,1053.9 L1098.8,1006.4 L1099.2,1015.8 L1099.6,990.8 L1100.1,991.4 L1100.5,1012.4 L1100.9,1084.9 L1101.3,1074.6 L1101.8,1078.6 L1102.2,1104.0 L1102.6,1077.8 L1103.1,1158.4 L1103.5,1073.1 L1103.9,1095.8 L1104.4,1067.5 L1104.8,1067.0 L1105.2,1070.9 L1105.6,1143.0 L1106.1,1144.3 L1106.5,1209.0 L1106.9,1214.3 L1107.4,1135.8 L1107.8,1119.0 L1108.2,1124.4 L1108.6,1058.0 L1109.1,997.4 L1109.5,965.2 L1109.9,964.1 L1110.4,965.9 L1110.8,1050.4 L1111.2,1039.1 L1111.6,1057.8 L1112.1,1083.6 L1112.5,1104.4 L1112.9,1134.7 L1113.4,1064.9 L1113.8,1060.0 L1114.2,1084.1 L1114.6,1104.4 L1115.1,1025.4 L1115.5,1108.8 L1115.9,1075.9 L1116.4,1077.8 L1116.8,1205.1 L1117.2,1165.9 L1117.7,1176.2 L1118.1,1101.9 L1118.5,1068.7 L1118.9,975.9 L1119.4,974.6 L1119.8,969.6 L1120.2,957.5 L1120.7,973.0 L1121.1,1006.4 L1121.5,969.2 L1121.9,1090.4 L1122.4,1120.1 L1122.8,1126.8 L1123.2,1184.7 L1123.7,1216.8 L1124.1,1072.6 L1124.5,1116.9 L1124.9,1095.4 L1125.4,1090.9 L1125.8,1132.3 L1126.2,1167.1 L1126.7,1145.1 L1127.1,1081.1 L1127.5,1150.2 L1127.9,1131.8 L1128.4,1186.2 L1128.8,1076.2 L1129.2,1070.1 L1129.7,989.3 L1130.1,990.9 L1130.5,986.1 L1131.0,992.1 L1131.4,1028.1 L1131.8,1075.1 L1132.2,1062.7 L1132.7,1147.6 L1133.1,1164.0 L1133.5,1136.5 L1134.0,1140.3 L1134.4,1092.3 L1134.8,1065.6 L1135.2,1074.3 L1135.7,1075.9 L1136.1,1089.6 L1136.5,1086.7 L1137.0,1179.1 L1137.4,1138.3 L1137.8,1177.7 L1138.2,1176.5 L1138.7,1108.5 L1139.1,1081.9 L1139.5,1009.9 L1140.0,951.9 L1140.4,1031.9 L1140.8,948.5 L1141.3,935.2 L1141.7,952.1 L1142.1,980.4 L1142.5,1075.4 L1143.0,1149.7 L1143.4,1160.0 L1143.8,1102.0 L1144.3,1086.2 L1144.7,1120.4 L1145.1,1091.6 L1145.5,1075.0 L1146.0,1137.2 L1146.4,1108.8 L1146.8,1077.4 L1147.3,1081.2 L1147.7,1174.7 L1148.1,1105.6 L1148.5,1169.9 L1149.0,1138.3 L1149.4,1136.7 L1149.8,991.7 L1150.3,994.2 L1150.7,954.9 L1151.1,961.3 L1151.5,971.9 L1152.0,1067.4 L1152.4,1008.1 L1152.8,1094.4 L1153.3,1119.6 L1153.7,1212.9 L1154.1,1096.1 L1154.6,1082.6 L1155.0,1117.3 L1155.4,1081.2 L1155.8,1073.5 L1156.3,1066.8 L1156.7,1108.5 L1157.1,1083.1 L1157.6,1190.5 L1158.0,1220.5 L1158.4,1215.0 L1158.8,1240.5 L1159.3,1139.8 L1159.7,1029.5 L1160.1,999.4 L1160.6,994.7 L1161.0,944.5 L1161.4,1020.6 L1161.8,979.3 L1162.3,993.1 L1162.7,1037.3 L1163.1,1123.9 L1163.6,1089.0 L1164.0,1072.1 L1164.4,1148.0 L1164.9,1083.4 L1165.3,1156.4 L1165.7,1161.6 L1166.1,1069.5 L1166.6,1097.4 L1167.0,1123.3 L1167.4,1204.4 L1167.9,1226.4 L1168.3,1182.3 L1168.7,1123.5 L1169.1,1171.4 L1169.6,1173.7 L1170.0,1023.7 L1170.4,1001.2 L1170.9,985.1 L1171.3,988.5 L1171.7,985.0 L1172.1,1014.6 L1172.6,1036.4 L1173.0,1138.8 L1173.4,1127.4 L1173.9,1160.9 L1174.3,1134.8 L1174.7,1105.8 L1175.1,1132.1 L1175.6,1050.5 L1176.0,1118.7 L1176.4,1102.3 L1176.9,1099.6 L1177.3,1208.7 L1177.7,1160.6 L1178.2,1186.5 L1178.6,1233.5 L1179.0,1111.2 L1179.4,1141.7 L1179.9,1082.6 L1180.3,1076.8 L1180.7,1062.7 L1181.2,1012.7 L1181.6,1000.1 L1182.0,1012.3 L1182.4,1004.1 L1182.9,1114.6 L1183.3,1111.8 L1183.7,1172.1 L1184.2,1082.0 L1184.6,1137.6 L1185.0,1122.2 L1185.4,1125.0 L1185.9,1065.5 L1186.3,1090.4 L1186.7,1084.7 L1187.2,1181.2 L1187.6,1102.1 L1188.0,1158.3 L1188.5,1173.5 L1188.9,1148.2 L1189.3,1179.8 L1189.7,1134.5 L1190.2,1069.6 L1190.6,1033.9 L1191.0,1013.6 L1191.5,985.3 L1191.9,990.9 L1192.3,980.5 L1192.7,991.8 L1193.2,1058.6 L1193.6,1037.0 L1194.0,1165.6 L1194.5,1128.8 L1194.9,1073.0 L1195.3,1118.8 L1195.7,1146.0 L1196.2,1051.2 L1196.6,1073.5 L1197.0,1135.5 L1197.5,1093.5 L1197.9,1201.7 L1198.3,1232.0 L1198.7,1220.3 L1199.2,1224.5 L1199.6,1223.3 L1200.0,1145.1 L1200.5,1110.8 L1200.9,1050.3 L1201.3,1020.6 L1201.8,1000.3 L1202.2,1012.6 L1202.6,1049.2 L1203.0,1071.3 L1203.5,1074.0 L1203.9,1060.4 L1204.3,1087.3 L1204.8,1147.8 L1205.2,1089.9 L1205.6,1148.9 L1206.0,1075.0 L1206.5,1093.7 L1206.9,1074.2 L1207.3,1084.2 L1207.8,1130.7 L1208.2,1143.6 L1208.6,1227.8 L1209.0,1219.9 L1209.5,1165.9 L1209.9,1062.3 L1210.3,1107.2 L1210.8,1085.4 L1211.2,1078.1 L1211.6,1016.0 L1212.0,1051.2 L1212.5,1030.2 L1212.9,1020.3 L1213.3,1071.4 L1213.8,1040.0 L1214.2,1072.6 L1214.6,1141.2 L1215.1,1158.9 L1215.5,1194.3 L1215.9,1180.6 L1216.3,1088.3 L1216.8,1080.3 L1217.2,1084.2 L1217.6,1090.1 L1218.1,1152.7 L1218.5,1151.6 L1218.9,1269.3 L1219.3,1242.1 L1219.8,1162.6 L1220.2,1140.1 L1220.6,1172.0 L1221.1,1098.1 L1221.5,1031.3 L1221.9,1010.5 L1222.3,1048.3 L1222.8,1020.6 L1223.2,1018.8 L1223.6,1018.6 L1224.1,1085.0 L1224.5,1080.1 L1224.9,1136.5 L1225.4,1073.7 L1225.8,1126.0 L1226.2,1137.4 L1226.6,1124.0 L1227.1,1180.0 L1227.5,1215.0 L1227.9,1250.0 L1228.4,1275.0 L1228.8,1292.0 L1229.2,1285.0 L1229.6,1270.0 L1230.1,1280.0 L1230.5,1292.0" fill="none" stroke="#2F5597" stroke-width="2.2" stroke-linejoin="round" stroke-linecap="round"/>
</g>
<rect x="217.20" y="19.60" width="1008.10" height="581.20" fill="none" stroke="#000" stroke-width="2.7"/>
<line x1="202.00" y1="19.60" x2="217.20" y2="19.60" stroke="#000" stroke-width="2.7"/>
<line x1="202.00" y1="164.90" x2="217.20" y2="164.90" stroke="#000" stroke-width="2.7"/>
<line x1="202.00" y1="310.20" x2="217.20" y2="310.20" stroke="#000" stroke-width="2.7"/>
<line x1="202.00" y1="455.50" x2="217.20" y2="455.50" stroke="#000" stroke-width="2.7"/>
<line x1="202.00" y1="600.80" x2="217.20" y2="600.80" stroke="#000" stroke-width="2.7"/>
<line x1="217.20" y1="600.80" x2="217.20" y2="614.70" stroke="#000" stroke-width="2.7"/>
<line x1="469.22" y1="600.80" x2="469.22" y2="614.70" stroke="#000" stroke-width="2.7"/>
<line x1="721.25" y1="600.80" x2="721.25" y2="614.70" stroke="#000" stroke-width="2.7"/>
<line x1="973.27" y1="600.80" x2="973.27" y2="614.70" stroke="#000" stroke-width="2.7"/>
<line x1="1225.30" y1="600.80" x2="1225.30" y2="614.70" stroke="#000" stroke-width="2.7"/>
<rect x="221.30" y="758.30" width="1009.20" height="580.20" fill="none" stroke="#000" stroke-width="2.7"/>
<line x1="205.00" y1="758.30" x2="221.30" y2="758.30" stroke="#000" stroke-width="2.7"/>
<line x1="205.00" y1="855.00" x2="221.30" y2="855.00" stroke="#000" stroke-width="2.7"/>
<line x1="205.00" y1="951.70" x2="221.30" y2="951.70" stroke="#000" stroke-width="2.7"/>
<line x1="205.00" y1="1048.40" x2="221.30" y2="1048.40" stroke="#000" stroke-width="2.7"/>
<line x1="205.00" y1="1145.10" x2="221.30" y2="1145.10" stroke="#000" stroke-width="2.7"/>
<line x1="205.00" y1="1241.80" x2="221.30" y2="1241.80" stroke="#000" stroke-width="2.7"/>
<line x1="205.00" y1="1338.50" x2="221.30" y2="1338.50" stroke="#000" stroke-width="2.7"/>
<line x1="221.30" y1="1338.50" x2="221.30" y2="1353.00" stroke="#000" stroke-width="2.7"/>
<line x1="365.47" y1="1338.50" x2="365.47" y2="1353.00" stroke="#000" stroke-width="2.7"/>
<line x1="509.64" y1="1338.50" x2="509.64" y2="1353.00" stroke="#000" stroke-width="2.7"/>
<line x1="653.81" y1="1338.50" x2="653.81" y2="1353.00" stroke="#000" stroke-width="2.7"/>
<line x1="797.99" y1="1338.50" x2="797.99" y2="1353.00" stroke="#000" stroke-width="2.7"/>
<line x1="942.16" y1="1338.50" x2="942.16" y2="1353.00" stroke="#000" stroke-width="2.7"/>
<line x1="1086.33" y1="1338.50" x2="1086.33" y2="1353.00" stroke="#000" stroke-width="2.7"/>
<line x1="1230.50" y1="1338.50" x2="1230.50" y2="1353.00" stroke="#000" stroke-width="2.7"/>
<line x1="776.5" y1="57.4" x2="803.2" y2="57.4" stroke="#548235" stroke-width="3.8" stroke-linecap="round"/>
<line x1="999.4" y1="57.4" x2="1026.1" y2="57.4" stroke="#2F5597" stroke-width="3.8" stroke-linecap="round"/>
<line x1="780.3" y1="796" x2="809" y2="796" stroke="#548235" stroke-width="2"/>
<line x1="1004.5" y1="796" x2="1032.4" y2="796" stroke="#2F5597" stroke-width="2"/>
<text transform="matrix(0.9633 0 0 0.9805 107.93 33.91)" font-size="47">1.0</text>
<text transform="matrix(0.9707 0 0 0.9805 106.80 179.21)" font-size="47">0.5</text>
<text transform="matrix(0.9862 0 0 0.9805 106.77 324.51)" font-size="47">0.0</text>
<text transform="matrix(0.9753 0 0 0.9805 91.15 469.81)" font-size="47">-0.5</text>
<text transform="matrix(0.9851 0 0 0.9805 91.03 615.11)" font-size="47">-1.0</text>
<text transform="matrix(0.9751 0 0 0.9805 110.89 772.61)" font-size="47">0.4</text>
<text transform="matrix(0.9740 0 0 0.9805 111.00 869.31)" font-size="47">0.3</text>
<text transform="matrix(0.9714 0 0 0.9805 111.00 966.01)" font-size="47">0.2</text>
<text transform="matrix(0.9812 0 0 0.9805 110.98 1062.71)" font-size="47">0.1</text>
<text transform="matrix(0.9846 0 0 0.9805 110.98 1159.41)" font-size="47">0.0</text>
<text transform="matrix(0.9837 0 0 0.9805 95.33 1256.11)" font-size="47">-0.1</text>
<text transform="matrix(0.9759 0 0 0.9805 95.35 1352.81)" font-size="47">-0.2</text>
<text transform="matrix(1.0780 0 0 0.9800 174.41 671.46)" font-size="41">8/18</text>
<text transform="matrix(1.0754 0 0 0.9800 426.42 671.46)" font-size="41">8/25</text>
<text transform="matrix(1.1151 0 0 0.9800 689.57 671.46)" font-size="41">9/1</text>
<text transform="matrix(1.1099 0 0 0.9800 941.63 671.46)" font-size="41">9/8</text>
<text transform="matrix(1.0737 0 0 0.9800 1181.85 671.46)" font-size="41">9/15</text>
<text transform="matrix(1.0741 0 0 0.9767 178.32 1409.36)" font-size="41">8/18</text>
<text transform="matrix(1.1057 0 0 0.9767 333.69 1409.36)" font-size="41">9/1</text>
<text transform="matrix(1.0618 0 0 0.9767 466.58 1409.36)" font-size="41">9/15</text>
<text transform="matrix(1.0785 0 0 0.9767 610.24 1409.36)" font-size="41">9/29</text>
<text transform="matrix(1.0554 0 0 0.9767 743.57 1409.36)" font-size="41">10/13</text>
<text transform="matrix(1.0478 0 0 0.9767 888.09 1409.36)" font-size="41">10/27</text>
<text transform="matrix(1.0860 0 0 0.9767 1032.27 1409.36)" font-size="41">11/10</text>
<text transform="matrix(1.1000 0 0 0.9767 1175.92 1409.36)" font-size="41">11/24</text>
<text transform="matrix(0.9983 0 0 1.0052 676.00 716.85)" font-size="41">2020</text>
<text transform="matrix(0.9983 0 0 1.0017 681.40 1454.85)" font-size="41">2020</text>
<text transform="matrix(0.9598 0 0 1.0267 805.18 70.14)" font-size="41">JMA Obs</text>
<text transform="matrix(1.0282 0 0 0.9935 1028.86 69.16)" font-size="41">Miyako2</text>
<text transform="matrix(0.9604 0 0 1.0367 810.28 808.64)" font-size="41">JMA Obs</text>
<text transform="matrix(1.0255 0 0 1.0039 1034.57 807.67)" font-size="41">Miyako2</text>
<text transform="matrix(1.0359 0 0 1.0400 -0.78 32.30)" font-size="29" font-weight="bold">A</text>
<text transform="matrix(1.0057 0 0 1.0450 -0.01 796.90)" font-size="29" font-weight="bold">B</text>
<text transform="translate(86.90 469.55) rotate(-90) scale(0.9850 1.0005)" font-size="46.2">Water Level (m)</text>
<text transform="translate(92.40 1183.81) rotate(-90) scale(0.9630 1.0036)" font-size="46.2">Residual (m)</text>
</svg>
</body></html>
